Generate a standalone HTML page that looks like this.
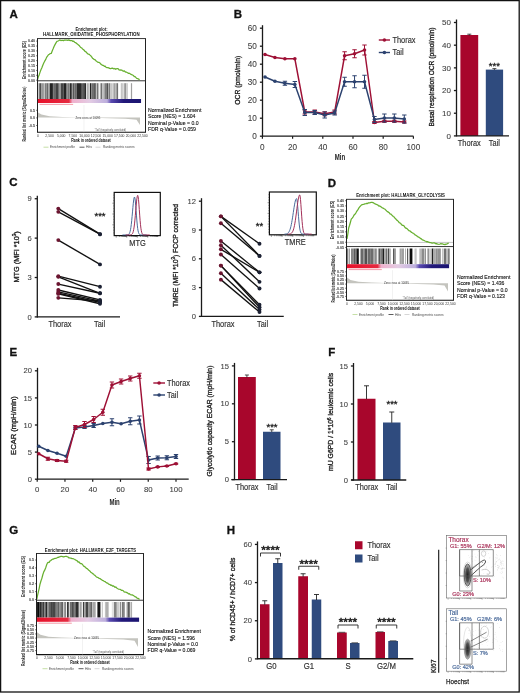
<!DOCTYPE html>
<html><head><meta charset="utf-8"><title>Figure</title>
<style>html,body{margin:0;padding:0;background:#fff;width:520px;height:693px;overflow:hidden}svg{display:block;will-change:transform;font-family:"Liberation Sans",sans-serif}</style>
</head><body>
<svg width="520" height="693" viewBox="0 0 520 693" font-family="Liberation Sans, sans-serif">
<text x="9.5" y="17.6" font-size="11.5" text-anchor="start" font-weight="bold" fill="#111" stroke="#111" stroke-width="0.3">A</text>
<text x="233.8" y="17.6" font-size="11.5" text-anchor="start" font-weight="bold" fill="#111" stroke="#111" stroke-width="0.3">B</text>
<text x="9.3" y="186.2" font-size="11.5" text-anchor="start" font-weight="bold" fill="#111" stroke="#111" stroke-width="0.3">C</text>
<text x="327.8" y="187.2" font-size="11.5" text-anchor="start" font-weight="bold" fill="#111" stroke="#111" stroke-width="0.3">D</text>
<text x="9.6" y="356.4" font-size="11.5" text-anchor="start" font-weight="bold" fill="#111" stroke="#111" stroke-width="0.3">E</text>
<text x="328.3" y="356.4" font-size="11.5" text-anchor="start" font-weight="bold" fill="#111" stroke="#111" stroke-width="0.3">F</text>
<text x="9.2" y="533.9" font-size="11.5" text-anchor="start" font-weight="bold" fill="#111" stroke="#111" stroke-width="0.3">G</text>
<text x="226.8" y="533.9" font-size="11.5" text-anchor="start" font-weight="bold" fill="#111" stroke="#111" stroke-width="0.3">H</text>
<text x="91.5" y="30.6" font-size="4.9" text-anchor="middle" font-weight="bold" fill="#111" textLength="32" lengthAdjust="spacingAndGlyphs" >Enrichment plot:</text>
<text x="91.3" y="35.6" font-size="4.9" text-anchor="middle" font-weight="bold" fill="#111" textLength="96.5" lengthAdjust="spacingAndGlyphs" >HALLMARK_OXIDATIVE_PHOSPHORYLATION</text>
<rect x="37.5" y="38.6" width="108" height="42.2" fill="none" stroke="#222" stroke-width="0.9" />
<polyline points="37.5,79.57 38.33,76.73 39.17,74.92 40,72.38 40.94,69.78 41.88,67.77 42.81,65.18 43.75,63 44.69,61.18 45.62,59.67 46.56,57.37 47.5,56.17 48.44,54.74 49.38,54.22 50.31,53.5 51.25,53.49 52.19,50.94 53.12,48.85 54.06,46.53 55,44.62 56,42.91 57,41.24 58,41.02 59,40.49 60,39.9 60.88,40.54 61.75,40.41 62.62,40.4 63.5,40.59 64.38,40.16 65.25,40.14 66.12,40.18 67,40.16 67.88,40.4 68.75,39.81 69.58,40.43 70.42,40.7 71.25,40.74 72.08,40.65 72.92,41.48 73.75,41.06 74.64,42.27 75.54,42.62 76.43,43.22 77.32,44.07 78.21,44.68 79.11,45.47 80,46.67 80.83,47.46 81.67,47.88 82.5,48.89 83.33,49.48 84.17,50.25 85,51.34 85.83,51.58 86.67,52.83 87.5,53.42 88.33,54.17 89.17,54.31 90,55.13 90.83,55.83 91.67,56.86 92.5,58.15 93.33,58.84 94.17,59.55 95,59.66 95.83,60.74 96.67,61.36 97.5,61.94 98.33,62.49 99.17,62.45 100,63.04 100.83,64.15 101.67,64.66 102.5,65.35 103.39,65.42 104.29,66.28 105.18,66.07 106.07,67.27 106.96,67.67 107.86,67.64 108.75,67.86 109.62,68.37 110.5,68.57 111.38,68.34 112.25,68.15 113.12,68.43 114,68.99 114.88,68.41 115.75,69.24 116.62,68.7 117.5,68.73 118.33,68.93 119.17,69.99 120,70.19 120.83,69.95 121.67,70.02 122.5,70.8 123.33,71.29 124.17,70.78 125,71.62 125.83,72.21 126.67,72.24 127.5,72.73 128.33,73.33 129.17,73.21 130,73.63 130.83,74.37 131.67,74.66 132.5,75.03 133.38,75.48 134.25,76.64 135.12,76.68 136,77.66 136.88,78.48 137.75,78.66 138.62,78.97 139.5,80" fill="none" stroke="#68B030" stroke-width="1.25" stroke-linejoin="round" />
<text x="34.9" y="42.4" font-size="3.6" text-anchor="end" font-weight="bold" fill="#333" >0.40</text>
<line x1="36.1" y1="41.1" x2="37.5" y2="41.1" stroke="#222" stroke-width="0.6" />
<text x="34.9" y="47.29" font-size="3.6" text-anchor="end" font-weight="bold" fill="#333" >0.35</text>
<line x1="36.1" y1="45.99" x2="37.5" y2="45.99" stroke="#222" stroke-width="0.6" />
<text x="34.9" y="52.17" font-size="3.6" text-anchor="end" font-weight="bold" fill="#333" >0.30</text>
<line x1="36.1" y1="50.88" x2="37.5" y2="50.88" stroke="#222" stroke-width="0.6" />
<text x="34.9" y="57.06" font-size="3.6" text-anchor="end" font-weight="bold" fill="#333" >0.25</text>
<line x1="36.1" y1="55.76" x2="37.5" y2="55.76" stroke="#222" stroke-width="0.6" />
<text x="34.9" y="61.95" font-size="3.6" text-anchor="end" font-weight="bold" fill="#333" >0.20</text>
<line x1="36.1" y1="60.65" x2="37.5" y2="60.65" stroke="#222" stroke-width="0.6" />
<text x="34.9" y="66.84" font-size="3.6" text-anchor="end" font-weight="bold" fill="#333" >0.15</text>
<line x1="36.1" y1="65.54" x2="37.5" y2="65.54" stroke="#222" stroke-width="0.6" />
<text x="34.9" y="71.73" font-size="3.6" text-anchor="end" font-weight="bold" fill="#333" >0.10</text>
<line x1="36.1" y1="70.43" x2="37.5" y2="70.43" stroke="#222" stroke-width="0.6" />
<text x="34.9" y="76.61" font-size="3.6" text-anchor="end" font-weight="bold" fill="#333" >0.05</text>
<line x1="36.1" y1="75.31" x2="37.5" y2="75.31" stroke="#222" stroke-width="0.6" />
<text x="34.9" y="81.5" font-size="3.6" text-anchor="end" font-weight="bold" fill="#333" >0.00</text>
<line x1="36.1" y1="80.2" x2="37.5" y2="80.2" stroke="#222" stroke-width="0.6" />
<text x="25.9" y="60.1" font-size="4.6" text-anchor="middle" font-weight="bold" fill="#222" textLength="38" lengthAdjust="spacingAndGlyphs" transform="rotate(-90 25.9 60.1)" >Enrichment score (ES)</text>
<rect x="38.6" y="83.2" width="1.6" height="15.8" fill="#7c7c7c" stroke="none" stroke-width="1" />
<rect x="40.2" y="83.2" width="0.9" height="15.8" fill="#2b2b2b" stroke="none" stroke-width="1" />
<rect x="41.1" y="83.2" width="0.6" height="15.8" fill="#767676" stroke="none" stroke-width="1" />
<rect x="41.7" y="83.2" width="2.2" height="15.8" fill="#979797" stroke="none" stroke-width="1" />
<rect x="44.4" y="83.2" width="0.6" height="15.8" fill="#999999" stroke="none" stroke-width="1" />
<rect x="45" y="83.2" width="1.6" height="15.8" fill="#7e7e7e" stroke="none" stroke-width="1" />
<rect x="46.6" y="83.2" width="1.6" height="15.8" fill="#696969" stroke="none" stroke-width="1" />
<rect x="48.2" y="83.2" width="1.6" height="15.8" fill="#9e9e9e" stroke="none" stroke-width="1" />
<rect x="49.8" y="83.2" width="2.2" height="15.8" fill="#232323" stroke="none" stroke-width="1" />
<rect x="52" y="83.2" width="1.2" height="15.8" fill="#363636" stroke="none" stroke-width="1" />
<rect x="53.2" y="83.2" width="2.8" height="15.8" fill="#686868" stroke="none" stroke-width="1" />
<rect x="56" y="83.2" width="2.8" height="15.8" fill="#434343" stroke="none" stroke-width="1" />
<rect x="58.8" y="83.2" width="1.6" height="15.8" fill="#9a9a9a" stroke="none" stroke-width="1" />
<rect x="60.4" y="83.2" width="0.6" height="15.8" fill="#6c6c6c" stroke="none" stroke-width="1" />
<rect x="61" y="83.2" width="2.8" height="15.8" fill="#454545" stroke="none" stroke-width="1" />
<rect x="63.8" y="83.2" width="2.8" height="15.8" fill="#242424" stroke="none" stroke-width="1" />
<rect x="67.3" y="83.2" width="1.6" height="15.8" fill="#656565" stroke="none" stroke-width="1" />
<rect x="68.9" y="83.2" width="1.2" height="15.8" fill="#919191" stroke="none" stroke-width="1" />
<rect x="70.1" y="83.2" width="1.6" height="15.8" fill="#131313" stroke="none" stroke-width="1" />
<rect x="72.4" y="83.2" width="2.2" height="15.8" fill="#575757" stroke="none" stroke-width="1" />
<rect x="74.6" y="83.2" width="2.2" height="15.8" fill="#696969" stroke="none" stroke-width="1" />
<rect x="76.8" y="83.2" width="2.2" height="15.8" fill="#292929" stroke="none" stroke-width="1" />
<rect x="79" y="83.2" width="2.8" height="15.8" fill="#292929" stroke="none" stroke-width="1" />
<rect x="82.3" y="83.2" width="1.2" height="15.8" fill="#1e1e1e" stroke="none" stroke-width="1" />
<rect x="83.5" y="83.2" width="1.2" height="15.8" fill="#1f1f1f" stroke="none" stroke-width="1" />
<rect x="84.7" y="83.2" width="1.2" height="15.8" fill="#131313" stroke="none" stroke-width="1" />
<rect x="86.6" y="83.2" width="2.2" height="15.8" fill="#aeaeae" stroke="none" stroke-width="1" />
<rect x="89.8" y="83.2" width="1.2" height="15.8" fill="#222222" stroke="none" stroke-width="1" />
<rect x="91" y="83.2" width="0.6" height="15.8" fill="#606060" stroke="none" stroke-width="1" />
<rect x="91.6" y="83.2" width="2.8" height="15.8" fill="#6f6f6f" stroke="none" stroke-width="1" />
<rect x="94.4" y="83.2" width="1.2" height="15.8" fill="#161616" stroke="none" stroke-width="1" />
<rect x="95.6" y="83.2" width="0.9" height="15.8" fill="#717171" stroke="none" stroke-width="1" />
<rect x="96.5" y="83.2" width="0.9" height="15.8" fill="#cdcdcd" stroke="none" stroke-width="1" />
<rect x="97.4" y="83.2" width="0.9" height="15.8" fill="#262626" stroke="none" stroke-width="1" />
<rect x="99.7" y="83.2" width="0.9" height="15.8" fill="#d2d2d2" stroke="none" stroke-width="1" />
<rect x="100.6" y="83.2" width="1.6" height="15.8" fill="#717171" stroke="none" stroke-width="1" />
<rect x="102.2" y="83.2" width="2.2" height="15.8" fill="#bebebe" stroke="none" stroke-width="1" />
<rect x="104.4" y="83.2" width="2.8" height="15.8" fill="#7e7e7e" stroke="none" stroke-width="1" />
<rect x="107.2" y="83.2" width="1.2" height="15.8" fill="#2e2e2e" stroke="none" stroke-width="1" />
<rect x="109.1" y="83.2" width="1.2" height="15.8" fill="#6d6d6d" stroke="none" stroke-width="1" />
<rect x="110.3" y="83.2" width="2.2" height="15.8" fill="#c7c7c7" stroke="none" stroke-width="1" />
<rect x="112.5" y="83.2" width="0.9" height="15.8" fill="#cacaca" stroke="none" stroke-width="1" />
<rect x="113.4" y="83.2" width="2.2" height="15.8" fill="#a2a2a2" stroke="none" stroke-width="1" />
<rect x="115.6" y="83.2" width="0.9" height="15.8" fill="#acacac" stroke="none" stroke-width="1" />
<rect x="116.5" y="83.2" width="1.6" height="15.8" fill="#707070" stroke="none" stroke-width="1" />
<rect x="120.9" y="83.2" width="0.6" height="15.8" fill="#7b7b7b" stroke="none" stroke-width="1" />
<rect x="121.5" y="83.2" width="2.2" height="15.8" fill="#cdcdcd" stroke="none" stroke-width="1" />
<rect x="124.2" y="83.2" width="2.2" height="15.8" fill="#969696" stroke="none" stroke-width="1" />
<rect x="126.4" y="83.2" width="1.6" height="15.8" fill="#d0d0d0" stroke="none" stroke-width="1" />
<rect x="130.9" y="83.2" width="1.2" height="15.8" fill="#a0a0a0" stroke="none" stroke-width="1" />
<line x1="37.5" y1="38.6" x2="37.5" y2="132.2" stroke="#222" stroke-width="1" />
<line x1="145.5" y1="38.6" x2="145.5" y2="132.2" stroke="#222" stroke-width="1" />
<defs><linearGradient id="cb1" x1="0" x2="1" y1="0" y2="0"><stop offset="0" stop-color="#E8102A"/><stop offset="0.3" stop-color="#E52A40"/><stop offset="0.335" stop-color="#EFB0CC"/><stop offset="0.5" stop-color="#E4CCE4"/><stop offset="0.67" stop-color="#BCAEDC"/><stop offset="0.71" stop-color="#5A4AB0"/><stop offset="0.83" stop-color="#22187A"/><stop offset="1" stop-color="#1A1470"/></linearGradient></defs>
<rect x="37.9" y="99" width="103.14" height="4" fill="url(#cb1)" stroke="none" stroke-width="1" />
<line x1="39.5" y1="104.4" x2="73.14" y2="104.4" stroke="#F08090" stroke-width="0.8" />
<line x1="37.05" y1="132.2" x2="145.95" y2="132.2" stroke="#111" stroke-width="1.1" />
<line x1="83.94" y1="105" x2="83.94" y2="132.2" stroke="#ddd" stroke-width="0.4" />
<polygon points="38,112.4 41.5,114.6 49.5,116.2 62.5,117 83.94,117.6 125.5,118.7 136.5,119.8 140,125.1 140,117.6 38,117.6" fill="#C4C4BE"/>
<text x="87.94" y="118.6" font-size="2.8" text-anchor="middle" font-weight="normal" fill="#333" >Zero cross at 10095</text>
<text x="110.5" y="130.6" font-size="2.6" text-anchor="middle" font-weight="normal" fill="#555" >'Tail' (negatively correlated)</text>
<text x="34.9" y="111.6" font-size="3.6" text-anchor="end" font-weight="bold" fill="#333" >0.5</text>
<line x1="36.1" y1="110.3" x2="37.5" y2="110.3" stroke="#222" stroke-width="0.6" />
<text x="34.9" y="119.2" font-size="3.6" text-anchor="end" font-weight="bold" fill="#333" >0.0</text>
<line x1="36.1" y1="117.9" x2="37.5" y2="117.9" stroke="#222" stroke-width="0.6" />
<text x="34.9" y="126.8" font-size="3.6" text-anchor="end" font-weight="bold" fill="#333" >-0.5</text>
<line x1="36.1" y1="125.5" x2="37.5" y2="125.5" stroke="#222" stroke-width="0.6" />
<text x="25.9" y="114.1" font-size="4.9" text-anchor="middle" font-weight="bold" fill="#222" textLength="55" lengthAdjust="spacingAndGlyphs" transform="rotate(-90 25.9 114.1)" >Ranked list metric (Signal2Noise)</text>
<text x="38" y="137.1" font-size="3.4" text-anchor="middle" font-weight="normal" fill="#333" >0</text>
<text x="49.61" y="137.1" font-size="3.4" text-anchor="middle" font-weight="normal" fill="#333" >2,500</text>
<text x="61.22" y="137.1" font-size="3.4" text-anchor="middle" font-weight="normal" fill="#333" >5,000</text>
<text x="72.83" y="137.1" font-size="3.4" text-anchor="middle" font-weight="normal" fill="#333" >7,500</text>
<text x="84.44" y="137.1" font-size="3.4" text-anchor="middle" font-weight="normal" fill="#333" >10,000</text>
<text x="96.06" y="137.1" font-size="3.4" text-anchor="middle" font-weight="normal" fill="#333" >12,500</text>
<text x="107.67" y="137.1" font-size="3.4" text-anchor="middle" font-weight="normal" fill="#333" >15,000</text>
<text x="119.28" y="137.1" font-size="3.4" text-anchor="middle" font-weight="normal" fill="#333" >17,500</text>
<text x="130.89" y="137.1" font-size="3.4" text-anchor="middle" font-weight="normal" fill="#333" >20,000</text>
<text x="142.5" y="137.1" font-size="3.4" text-anchor="middle" font-weight="normal" fill="#333" >22,500</text>
<text x="91" y="142.4" font-size="5.2" text-anchor="middle" font-weight="bold" fill="#111" textLength="39.5" lengthAdjust="spacingAndGlyphs" >Rank in ordered dataset</text>
<line x1="43.5" y1="147.2" x2="48.5" y2="147.2" stroke="#B8D890" stroke-width="0.8" />
<text x="49.9" y="148.3" font-size="3.4" text-anchor="start" font-weight="normal" fill="#444" textLength="25" lengthAdjust="spacingAndGlyphs" >Enrichment profile</text>
<line x1="79.5" y1="147.2" x2="84.5" y2="147.2" stroke="#333" stroke-width="0.8" />
<text x="86" y="148.3" font-size="3.4" text-anchor="start" font-weight="normal" fill="#444" >Hits</text>
<line x1="95.5" y1="147.2" x2="100.5" y2="147.2" stroke="#bbb" stroke-width="0.6" />
<text x="103" y="148.3" font-size="3.4" text-anchor="start" font-weight="normal" fill="#444" textLength="31.5" lengthAdjust="spacingAndGlyphs" >Ranking metric scores</text>
<text x="148" y="111.9" font-size="5.4" text-anchor="start" font-weight="normal" fill="#111" textLength="53.31" lengthAdjust="spacingAndGlyphs" stroke="#111" stroke-width="0.12">Normalized Enrichment</text>
<text x="148" y="118.35" font-size="5.4" text-anchor="start" font-weight="normal" fill="#111" textLength="47.47" lengthAdjust="spacingAndGlyphs" stroke="#111" stroke-width="0.12">Score (NES) = 1.604</text>
<text x="148" y="124.8" font-size="5.4" text-anchor="start" font-weight="normal" fill="#111" textLength="50.52" lengthAdjust="spacingAndGlyphs" stroke="#111" stroke-width="0.12">Nominal p-Value = 0.0</text>
<text x="148" y="131.25" font-size="5.4" text-anchor="start" font-weight="normal" fill="#111" textLength="47.95" lengthAdjust="spacingAndGlyphs" stroke="#111" stroke-width="0.12">FDR q-Value = 0.059</text>
<text x="400.5" y="197.1" font-size="4.9" text-anchor="middle" font-weight="bold" fill="#111" textLength="88.7" lengthAdjust="spacingAndGlyphs" >Enrichment plot: HALLMARK_GLYCOLYSIS</text>
<rect x="346.5" y="199.3" width="107" height="47.3" fill="none" stroke="#222" stroke-width="0.9" />
<line x1="346.5" y1="242.4" x2="453.5" y2="242.4" stroke="#888" stroke-width="0.5" />
<polyline points="347,238.93 347.88,233.73 348.75,227.7 349.58,225.27 350.42,222.26 351.25,219.15 352.19,218.11 353.12,216.81 354.06,215.09 355,214.28 355.94,212.8 356.88,211.14 357.81,209.9 358.75,208.21 359.69,206.95 360.62,205.88 361.56,204.85 362.5,204.53 363.33,204.3 364.17,204.1 365,203.82 365.83,203.75 366.67,203.37 367.5,203.53 368.44,202.87 369.38,202.98 370.31,202.68 371.25,202.4 372.08,202.36 372.92,202.55 373.75,203.1 374.58,203.75 375.42,203.93 376.25,204.47 377.12,204.69 378,205.16 378.88,206.12 379.75,205.95 380.62,206.49 381.5,207.33 382.38,207.87 383.25,208.19 384.12,208.8 385,209.2 385.83,210.1 386.67,210.99 387.5,211.63 388.33,212.15 389.17,212.7 390,213.82 390.83,214.06 391.67,214.92 392.5,215.83 393.33,216.5 394.17,217.07 395,218.22 395.83,218.92 396.67,220.04 397.5,220.61 398.33,221.36 399.17,222.59 400,223.02 400.83,223.6 401.67,224.78 402.5,225.48 403.33,225.48 404.17,226.09 405,227.49 405.83,228.21 406.67,228.45 407.5,229.03 408.33,230.04 409.17,230.9 410,230.87 410.83,231.7 411.67,232.52 412.5,232.75 413.33,233.55 414.17,233.93 415,234.86 415.83,235.26 416.67,235.75 417.5,236.65 418.33,236.94 419.17,237.41 420,237.94 420.83,238.68 421.67,239.09 422.5,239.96 423.33,240.17 424.17,240.52 425,240.97 425.83,241.25 426.67,241.84 427.5,241.54 428.33,241.97 429.17,242.46 430,242.67 430.83,242.53 431.67,243.06 432.5,243.07 433.33,242.88 434.17,242.95 435,243.2 435.83,243.84 436.67,243.57 437.5,244.05 438.33,244.25 439.17,244.29 440,243.97 440.83,243.6 441.67,243.88 442.5,243.87 443.33,244.3 444.17,244.39 445,244.63 445.94,244.12 446.88,244.04 447.81,243.44 448.75,243" fill="none" stroke="#68B030" stroke-width="1.25" stroke-linejoin="round" />
<text x="343.9" y="202" font-size="3.6" text-anchor="end" font-weight="bold" fill="#333" >0.40</text>
<line x1="345.1" y1="200.7" x2="346.5" y2="200.7" stroke="#222" stroke-width="0.6" />
<text x="343.9" y="207.19" font-size="3.6" text-anchor="end" font-weight="bold" fill="#333" >0.35</text>
<line x1="345.1" y1="205.89" x2="346.5" y2="205.89" stroke="#222" stroke-width="0.6" />
<text x="343.9" y="212.38" font-size="3.6" text-anchor="end" font-weight="bold" fill="#333" >0.30</text>
<line x1="345.1" y1="211.08" x2="346.5" y2="211.08" stroke="#222" stroke-width="0.6" />
<text x="343.9" y="217.57" font-size="3.6" text-anchor="end" font-weight="bold" fill="#333" >0.25</text>
<line x1="345.1" y1="216.27" x2="346.5" y2="216.27" stroke="#222" stroke-width="0.6" />
<text x="343.9" y="222.76" font-size="3.6" text-anchor="end" font-weight="bold" fill="#333" >0.20</text>
<line x1="345.1" y1="221.46" x2="346.5" y2="221.46" stroke="#222" stroke-width="0.6" />
<text x="343.9" y="227.95" font-size="3.6" text-anchor="end" font-weight="bold" fill="#333" >0.15</text>
<line x1="345.1" y1="226.65" x2="346.5" y2="226.65" stroke="#222" stroke-width="0.6" />
<text x="343.9" y="233.14" font-size="3.6" text-anchor="end" font-weight="bold" fill="#333" >0.10</text>
<line x1="345.1" y1="231.84" x2="346.5" y2="231.84" stroke="#222" stroke-width="0.6" />
<text x="343.9" y="238.33" font-size="3.6" text-anchor="end" font-weight="bold" fill="#333" >0.05</text>
<line x1="345.1" y1="237.03" x2="346.5" y2="237.03" stroke="#222" stroke-width="0.6" />
<text x="343.9" y="243.52" font-size="3.6" text-anchor="end" font-weight="bold" fill="#333" >0.00</text>
<line x1="345.1" y1="242.22" x2="346.5" y2="242.22" stroke="#222" stroke-width="0.6" />
<text x="343.9" y="248.71" font-size="3.6" text-anchor="end" font-weight="bold" fill="#333" >-0.05</text>
<line x1="345.1" y1="247.41" x2="346.5" y2="247.41" stroke="#222" stroke-width="0.6" />
<text x="333.5" y="220" font-size="4.6" text-anchor="middle" font-weight="bold" fill="#222" textLength="38.5" lengthAdjust="spacingAndGlyphs" transform="rotate(-90 333.5 220)" >Enrichment score (ES)</text>
<rect x="347.1" y="248.5" width="0.6" height="15.7" fill="#202020" stroke="none" stroke-width="1" />
<rect x="348.7" y="248.5" width="0.9" height="15.7" fill="#646464" stroke="none" stroke-width="1" />
<rect x="351" y="248.5" width="2.8" height="15.7" fill="#878787" stroke="none" stroke-width="1" />
<rect x="353.8" y="248.5" width="1.6" height="15.7" fill="#5b5b5b" stroke="none" stroke-width="1" />
<rect x="355.4" y="248.5" width="1.2" height="15.7" fill="#585858" stroke="none" stroke-width="1" />
<rect x="356.6" y="248.5" width="2.2" height="15.7" fill="#131313" stroke="none" stroke-width="1" />
<rect x="360.5" y="248.5" width="2.8" height="15.7" fill="#696969" stroke="none" stroke-width="1" />
<rect x="363.3" y="248.5" width="1.6" height="15.7" fill="#828282" stroke="none" stroke-width="1" />
<rect x="364.9" y="248.5" width="2.2" height="15.7" fill="#525252" stroke="none" stroke-width="1" />
<rect x="367.1" y="248.5" width="0.9" height="15.7" fill="#a2a2a2" stroke="none" stroke-width="1" />
<rect x="368" y="248.5" width="2.8" height="15.7" fill="#6b6b6b" stroke="none" stroke-width="1" />
<rect x="370.8" y="248.5" width="2.2" height="15.7" fill="#6c6c6c" stroke="none" stroke-width="1" />
<rect x="373" y="248.5" width="1.6" height="15.7" fill="#a0a0a0" stroke="none" stroke-width="1" />
<rect x="374.6" y="248.5" width="2.2" height="15.7" fill="#8a8a8a" stroke="none" stroke-width="1" />
<rect x="377.8" y="248.5" width="0.9" height="15.7" fill="#a1a1a1" stroke="none" stroke-width="1" />
<rect x="378.7" y="248.5" width="1.6" height="15.7" fill="#585858" stroke="none" stroke-width="1" />
<rect x="380.3" y="248.5" width="2.2" height="15.7" fill="#7a7a7a" stroke="none" stroke-width="1" />
<rect x="382.5" y="248.5" width="1.6" height="15.7" fill="#1e1e1e" stroke="none" stroke-width="1" />
<rect x="384.1" y="248.5" width="2.2" height="15.7" fill="#a7a7a7" stroke="none" stroke-width="1" />
<rect x="386.3" y="248.5" width="0.6" height="15.7" fill="#272727" stroke="none" stroke-width="1" />
<rect x="387.4" y="248.5" width="0.9" height="15.7" fill="#909090" stroke="none" stroke-width="1" />
<rect x="388.3" y="248.5" width="0.9" height="15.7" fill="#121212" stroke="none" stroke-width="1" />
<rect x="389.2" y="248.5" width="1.6" height="15.7" fill="#aeaeae" stroke="none" stroke-width="1" />
<rect x="393.3" y="248.5" width="0.9" height="15.7" fill="#111111" stroke="none" stroke-width="1" />
<rect x="394.2" y="248.5" width="1.6" height="15.7" fill="#8a8a8a" stroke="none" stroke-width="1" />
<rect x="399.6" y="248.5" width="2.2" height="15.7" fill="#a2a2a2" stroke="none" stroke-width="1" />
<rect x="401.8" y="248.5" width="2.2" height="15.7" fill="#a0a0a0" stroke="none" stroke-width="1" />
<rect x="405" y="248.5" width="0.6" height="15.7" fill="#818181" stroke="none" stroke-width="1" />
<rect x="407" y="248.5" width="1.2" height="15.7" fill="#5b5b5b" stroke="none" stroke-width="1" />
<rect x="409.6" y="248.5" width="2.8" height="15.7" fill="#0c0c0c" stroke="none" stroke-width="1" />
<rect x="414.5" y="248.5" width="2.2" height="15.7" fill="#c6c6c6" stroke="none" stroke-width="1" />
<rect x="419.3" y="248.5" width="2.2" height="15.7" fill="#bababa" stroke="none" stroke-width="1" />
<rect x="421.5" y="248.5" width="2.8" height="15.7" fill="#8c8c8c" stroke="none" stroke-width="1" />
<rect x="424.8" y="248.5" width="0.9" height="15.7" fill="#666666" stroke="none" stroke-width="1" />
<rect x="427.4" y="248.5" width="1.6" height="15.7" fill="#959595" stroke="none" stroke-width="1" />
<rect x="429" y="248.5" width="2.8" height="15.7" fill="#d1d1d1" stroke="none" stroke-width="1" />
<rect x="431.8" y="248.5" width="1.6" height="15.7" fill="#212121" stroke="none" stroke-width="1" />
<rect x="433.4" y="248.5" width="2.2" height="15.7" fill="#ababab" stroke="none" stroke-width="1" />
<rect x="435.6" y="248.5" width="1.6" height="15.7" fill="#919191" stroke="none" stroke-width="1" />
<rect x="437.2" y="248.5" width="2.2" height="15.7" fill="#929292" stroke="none" stroke-width="1" />
<rect x="439.4" y="248.5" width="1.2" height="15.7" fill="#676767" stroke="none" stroke-width="1" />
<rect x="442.1" y="248.5" width="0.6" height="15.7" fill="#9c9c9c" stroke="none" stroke-width="1" />
<rect x="443.7" y="248.5" width="2.8" height="15.7" fill="#727272" stroke="none" stroke-width="1" />
<rect x="447.5" y="248.5" width="1.6" height="15.7" fill="#7e7e7e" stroke="none" stroke-width="1" />
<rect x="449.1" y="248.5" width="0.4" height="15.7" fill="#2c2c2c" stroke="none" stroke-width="1" />
<line x1="346.5" y1="199.3" x2="346.5" y2="300.2" stroke="#222" stroke-width="1" />
<line x1="453.5" y1="199.3" x2="453.5" y2="300.2" stroke="#222" stroke-width="1" />
<defs><linearGradient id="cb2" x1="0" x2="1" y1="0" y2="0"><stop offset="0" stop-color="#E8102A"/><stop offset="0.3" stop-color="#E52A40"/><stop offset="0.335" stop-color="#EFB0CC"/><stop offset="0.5" stop-color="#E4CCE4"/><stop offset="0.67" stop-color="#BCAEDC"/><stop offset="0.71" stop-color="#5A4AB0"/><stop offset="0.83" stop-color="#22187A"/><stop offset="1" stop-color="#1A1470"/></linearGradient></defs>
<rect x="346.9" y="264.2" width="102.19" height="4" fill="url(#cb2)" stroke="none" stroke-width="1" />
<line x1="348.5" y1="269.6" x2="381.81" y2="269.6" stroke="#F08090" stroke-width="0.8" />
<line x1="346.05" y1="300.2" x2="453.95" y2="300.2" stroke="#111" stroke-width="1.1" />
<line x1="392.51" y1="270.2" x2="392.51" y2="300.2" stroke="#ddd" stroke-width="0.4" />
<polygon points="347,277.48 350.5,279.9 358.5,281.66 371.5,282.54 392.51,283.2 433.5,284.41 444.5,285.62 448,291.45 448,283.2 347,283.2" fill="#C4C4BE"/>
<text x="396.51" y="284.2" font-size="2.8" text-anchor="middle" font-weight="normal" fill="#333" >Zero cross at 10095</text>
<text x="418.5" y="298.6" font-size="2.6" text-anchor="middle" font-weight="normal" fill="#555" >'Tail' (negatively correlated)</text>
<text x="343.9" y="273.1" font-size="3.6" text-anchor="end" font-weight="bold" fill="#333" >0.75</text>
<line x1="345.1" y1="271.8" x2="346.5" y2="271.8" stroke="#222" stroke-width="0.6" />
<text x="343.9" y="277.2" font-size="3.6" text-anchor="end" font-weight="bold" fill="#333" >0.50</text>
<line x1="345.1" y1="275.9" x2="346.5" y2="275.9" stroke="#222" stroke-width="0.6" />
<text x="343.9" y="281.3" font-size="3.6" text-anchor="end" font-weight="bold" fill="#333" >0.25</text>
<line x1="345.1" y1="280" x2="346.5" y2="280" stroke="#222" stroke-width="0.6" />
<text x="343.9" y="285.4" font-size="3.6" text-anchor="end" font-weight="bold" fill="#333" >0.00</text>
<line x1="345.1" y1="284.1" x2="346.5" y2="284.1" stroke="#222" stroke-width="0.6" />
<text x="343.9" y="289.5" font-size="3.6" text-anchor="end" font-weight="bold" fill="#333" >-0.25</text>
<line x1="345.1" y1="288.2" x2="346.5" y2="288.2" stroke="#222" stroke-width="0.6" />
<text x="343.9" y="293.6" font-size="3.6" text-anchor="end" font-weight="bold" fill="#333" >-0.50</text>
<line x1="345.1" y1="292.3" x2="346.5" y2="292.3" stroke="#222" stroke-width="0.6" />
<text x="343.9" y="297.7" font-size="3.6" text-anchor="end" font-weight="bold" fill="#333" >-0.75</text>
<line x1="345.1" y1="296.4" x2="346.5" y2="296.4" stroke="#222" stroke-width="0.6" />
<text x="334.9" y="278.5" font-size="4.9" text-anchor="middle" font-weight="bold" fill="#222" textLength="48" lengthAdjust="spacingAndGlyphs" transform="rotate(-90 334.9 278.5)" >Ranked list metric (Signal2Noise)</text>
<text x="347" y="304.7" font-size="3.4" text-anchor="middle" font-weight="normal" fill="#333" >0</text>
<text x="358.5" y="304.7" font-size="3.4" text-anchor="middle" font-weight="normal" fill="#333" >2,500</text>
<text x="370" y="304.7" font-size="3.4" text-anchor="middle" font-weight="normal" fill="#333" >5,000</text>
<text x="381.5" y="304.7" font-size="3.4" text-anchor="middle" font-weight="normal" fill="#333" >7,500</text>
<text x="393" y="304.7" font-size="3.4" text-anchor="middle" font-weight="normal" fill="#333" >10,000</text>
<text x="404.5" y="304.7" font-size="3.4" text-anchor="middle" font-weight="normal" fill="#333" >12,500</text>
<text x="416" y="304.7" font-size="3.4" text-anchor="middle" font-weight="normal" fill="#333" >15,000</text>
<text x="427.5" y="304.7" font-size="3.4" text-anchor="middle" font-weight="normal" fill="#333" >17,500</text>
<text x="439" y="304.7" font-size="3.4" text-anchor="middle" font-weight="normal" fill="#333" >20,000</text>
<text x="450.5" y="304.7" font-size="3.4" text-anchor="middle" font-weight="normal" fill="#333" >22,500</text>
<text x="400" y="309.7" font-size="5.2" text-anchor="middle" font-weight="bold" fill="#111" textLength="39.5" lengthAdjust="spacingAndGlyphs" >Rank in ordered dataset</text>
<line x1="352.5" y1="314.5" x2="357.5" y2="314.5" stroke="#B8D890" stroke-width="0.8" />
<text x="358.9" y="315.6" font-size="3.4" text-anchor="start" font-weight="normal" fill="#444" textLength="25" lengthAdjust="spacingAndGlyphs" >Enrichment profile</text>
<line x1="388.5" y1="314.5" x2="393.5" y2="314.5" stroke="#333" stroke-width="0.8" />
<text x="395" y="315.6" font-size="3.4" text-anchor="start" font-weight="normal" fill="#444" >Hits</text>
<line x1="404.5" y1="314.5" x2="409.5" y2="314.5" stroke="#bbb" stroke-width="0.6" />
<text x="412" y="315.6" font-size="3.4" text-anchor="start" font-weight="normal" fill="#444" textLength="31.5" lengthAdjust="spacingAndGlyphs" >Ranking metric scores</text>
<text x="457" y="278.9" font-size="5.4" text-anchor="start" font-weight="normal" fill="#111" textLength="53.31" lengthAdjust="spacingAndGlyphs" stroke="#111" stroke-width="0.12">Normalized Enrichment</text>
<text x="457" y="285.35" font-size="5.4" text-anchor="start" font-weight="normal" fill="#111" textLength="47.47" lengthAdjust="spacingAndGlyphs" stroke="#111" stroke-width="0.12">Score (NES) = 1.436</text>
<text x="457" y="291.8" font-size="5.4" text-anchor="start" font-weight="normal" fill="#111" textLength="50.52" lengthAdjust="spacingAndGlyphs" stroke="#111" stroke-width="0.12">Nominal p-Value = 0.0</text>
<text x="457" y="298.25" font-size="5.4" text-anchor="start" font-weight="normal" fill="#111" textLength="47.95" lengthAdjust="spacingAndGlyphs" stroke="#111" stroke-width="0.12">FDR q-Value = 0.123</text>
<text x="90.5" y="551.6" font-size="4.9" text-anchor="middle" font-weight="bold" fill="#111" textLength="91.3" lengthAdjust="spacingAndGlyphs" >Enrichment plot: HALLMARK_E2F_TARGETS</text>
<rect x="36.5" y="553.5" width="107" height="46.7" fill="none" stroke="#222" stroke-width="0.9" />
<polyline points="36.75,599.43 37.56,595.34 38.38,591.95 39.19,588.34 40,584.24 40.94,581 41.88,578.34 42.81,574.78 43.75,571.89 44.69,570.16 45.62,567.96 46.56,565.09 47.5,562.87 48.33,562.38 49.17,562.3 50,560.95 50.83,560.5 51.67,559.77 52.5,559.16 53.33,559.19 54.17,558.55 55,558.42 55.83,558.38 56.67,558.03 57.5,557.42 58.33,557.42 59.17,556.9 60,556.79 60.89,556.27 61.79,556.38 62.68,556.57 63.57,556.9 64.46,556.61 65.36,556.48 66.25,556.28 67.08,556.58 67.92,556.8 68.75,557.77 69.58,557.96 70.42,558.24 71.25,558.19 72.08,558.63 72.92,558.54 73.75,558.98 74.62,559.23 75.5,560.03 76.38,560.43 77.25,560.84 78.12,562.13 79,561.94 79.88,563.13 80.75,563.58 81.62,563.58 82.5,564.49 83.33,565.7 84.17,566.44 85,566.81 85.83,567.74 86.67,568.44 87.5,568.81 88.33,569.79 89.17,570.59 90,571.15 90.83,572.29 91.67,572.7 92.5,573.72 93.33,573.86 94.17,574.95 95,575.34 95.83,576.38 96.67,577.09 97.5,577.29 98.33,577.81 99.17,578.36 100,578.51 100.83,579.15 101.67,579.82 102.5,580.38 103.33,580.64 104.17,581.23 105,581.6 105.83,582.3 106.67,582.91 107.5,583.09 108.33,583.83 109.17,584.4 110,584.53 110.83,585.35 111.67,585.16 112.5,586.13 113.33,585.88 114.17,586.46 115,587.29 115.83,587 116.67,587.94 117.5,588.58 118.33,589.07 119.17,589.25 120,589.36 120.83,589.77 121.67,590.45 122.5,590.36 123.33,590.74 124.17,591.93 125,592.11 125.88,592.07 126.75,592.69 127.62,592.94 128.5,593.83 129.38,593.68 130.25,594.45 131.12,594.84 132,594.84 132.88,595.15 133.75,595.77 134.57,596.2 135.39,596.91 136.21,597.2 137.04,598.16 137.86,598.36 138.68,598.64 139.5,599.5" fill="none" stroke="#68B030" stroke-width="1.25" stroke-linejoin="round" />
<text x="33.9" y="561.3" font-size="3.6" text-anchor="end" font-weight="bold" fill="#333" >0.5</text>
<line x1="35.1" y1="560" x2="36.5" y2="560" stroke="#222" stroke-width="0.6" />
<text x="33.9" y="569.2" font-size="3.6" text-anchor="end" font-weight="bold" fill="#333" >0.4</text>
<line x1="35.1" y1="567.9" x2="36.5" y2="567.9" stroke="#222" stroke-width="0.6" />
<text x="33.9" y="577.1" font-size="3.6" text-anchor="end" font-weight="bold" fill="#333" >0.3</text>
<line x1="35.1" y1="575.8" x2="36.5" y2="575.8" stroke="#222" stroke-width="0.6" />
<text x="33.9" y="585" font-size="3.6" text-anchor="end" font-weight="bold" fill="#333" >0.2</text>
<line x1="35.1" y1="583.7" x2="36.5" y2="583.7" stroke="#222" stroke-width="0.6" />
<text x="33.9" y="592.9" font-size="3.6" text-anchor="end" font-weight="bold" fill="#333" >0.1</text>
<line x1="35.1" y1="591.6" x2="36.5" y2="591.6" stroke="#222" stroke-width="0.6" />
<text x="33.9" y="600.8" font-size="3.6" text-anchor="end" font-weight="bold" fill="#333" >0.0</text>
<line x1="35.1" y1="599.5" x2="36.5" y2="599.5" stroke="#222" stroke-width="0.6" />
<text x="24.5" y="576.5" font-size="4.6" text-anchor="middle" font-weight="bold" fill="#222" textLength="41" lengthAdjust="spacingAndGlyphs" transform="rotate(-90 24.5 576.5)" >Enrichment score (ES)</text>
<rect x="37.1" y="602" width="2.2" height="15.6" fill="#0a0a0a" stroke="none" stroke-width="1" />
<rect x="39.3" y="602" width="2.2" height="15.6" fill="#2b2b2b" stroke="none" stroke-width="1" />
<rect x="41.5" y="602" width="0.9" height="15.6" fill="#161616" stroke="none" stroke-width="1" />
<rect x="42.4" y="602" width="2.2" height="15.6" fill="#3c3c3c" stroke="none" stroke-width="1" />
<rect x="45.3" y="602" width="2.2" height="15.6" fill="#292929" stroke="none" stroke-width="1" />
<rect x="48" y="602" width="0.6" height="15.6" fill="#717171" stroke="none" stroke-width="1" />
<rect x="48.6" y="602" width="1.6" height="15.6" fill="#646464" stroke="none" stroke-width="1" />
<rect x="50.2" y="602" width="2.2" height="15.6" fill="#434343" stroke="none" stroke-width="1" />
<rect x="52.4" y="602" width="0.6" height="15.6" fill="#111111" stroke="none" stroke-width="1" />
<rect x="53" y="602" width="2.8" height="15.6" fill="#464646" stroke="none" stroke-width="1" />
<rect x="55.8" y="602" width="2.2" height="15.6" fill="#7e7e7e" stroke="none" stroke-width="1" />
<rect x="58" y="602" width="1.6" height="15.6" fill="#616161" stroke="none" stroke-width="1" />
<rect x="59.6" y="602" width="0.6" height="15.6" fill="#878787" stroke="none" stroke-width="1" />
<rect x="60.2" y="602" width="0.9" height="15.6" fill="#737373" stroke="none" stroke-width="1" />
<rect x="61.1" y="602" width="2.2" height="15.6" fill="#636363" stroke="none" stroke-width="1" />
<rect x="64.3" y="602" width="0.6" height="15.6" fill="#5d5d5d" stroke="none" stroke-width="1" />
<rect x="64.9" y="602" width="1.2" height="15.6" fill="#878787" stroke="none" stroke-width="1" />
<rect x="67.1" y="602" width="1.6" height="15.6" fill="#222222" stroke="none" stroke-width="1" />
<rect x="69.7" y="602" width="1.2" height="15.6" fill="#686868" stroke="none" stroke-width="1" />
<rect x="70.9" y="602" width="0.6" height="15.6" fill="#363636" stroke="none" stroke-width="1" />
<rect x="71.5" y="602" width="1.6" height="15.6" fill="#4e4e4e" stroke="none" stroke-width="1" />
<rect x="73.1" y="602" width="1.2" height="15.6" fill="#545454" stroke="none" stroke-width="1" />
<rect x="74.3" y="602" width="1.6" height="15.6" fill="#5e5e5e" stroke="none" stroke-width="1" />
<rect x="75.9" y="602" width="2.2" height="15.6" fill="#303030" stroke="none" stroke-width="1" />
<rect x="78.1" y="602" width="1.2" height="15.6" fill="#6a6a6a" stroke="none" stroke-width="1" />
<rect x="80.3" y="602" width="1.2" height="15.6" fill="#797979" stroke="none" stroke-width="1" />
<rect x="82.9" y="602" width="1.2" height="15.6" fill="#3c3c3c" stroke="none" stroke-width="1" />
<rect x="84.1" y="602" width="0.6" height="15.6" fill="#8d8d8d" stroke="none" stroke-width="1" />
<rect x="84.7" y="602" width="1.2" height="15.6" fill="#8b8b8b" stroke="none" stroke-width="1" />
<rect x="85.9" y="602" width="2.2" height="15.6" fill="#454545" stroke="none" stroke-width="1" />
<rect x="88.1" y="602" width="1.2" height="15.6" fill="#929292" stroke="none" stroke-width="1" />
<rect x="89.3" y="602" width="0.9" height="15.6" fill="#727272" stroke="none" stroke-width="1" />
<rect x="90.2" y="602" width="2.2" height="15.6" fill="#666666" stroke="none" stroke-width="1" />
<rect x="92.9" y="602" width="2.8" height="15.6" fill="#a7a7a7" stroke="none" stroke-width="1" />
<rect x="97.4" y="602" width="2.8" height="15.6" fill="#161616" stroke="none" stroke-width="1" />
<rect x="100.2" y="602" width="0.9" height="15.6" fill="#8b8b8b" stroke="none" stroke-width="1" />
<rect x="102.1" y="602" width="0.9" height="15.6" fill="#c8c8c8" stroke="none" stroke-width="1" />
<rect x="104.9" y="602" width="1.2" height="15.6" fill="#c2c2c2" stroke="none" stroke-width="1" />
<rect x="106.1" y="602" width="1.2" height="15.6" fill="#a8a8a8" stroke="none" stroke-width="1" />
<rect x="107.3" y="602" width="1.2" height="15.6" fill="#999999" stroke="none" stroke-width="1" />
<rect x="111.8" y="602" width="2.2" height="15.6" fill="#e1e1e1" stroke="none" stroke-width="1" />
<rect x="114" y="602" width="2.8" height="15.6" fill="#838383" stroke="none" stroke-width="1" />
<rect x="116.8" y="602" width="2.8" height="15.6" fill="#cccccc" stroke="none" stroke-width="1" />
<rect x="119.6" y="602" width="0.9" height="15.6" fill="#dfdfdf" stroke="none" stroke-width="1" />
<rect x="120.5" y="602" width="0.6" height="15.6" fill="#2e2e2e" stroke="none" stroke-width="1" />
<rect x="121.1" y="602" width="0.9" height="15.6" fill="#e1e1e1" stroke="none" stroke-width="1" />
<rect x="122" y="602" width="0.6" height="15.6" fill="#1e1e1e" stroke="none" stroke-width="1" />
<rect x="123.1" y="602" width="1.6" height="15.6" fill="#7b7b7b" stroke="none" stroke-width="1" />
<rect x="126.8" y="602" width="0.6" height="15.6" fill="#1f1f1f" stroke="none" stroke-width="1" />
<rect x="127.4" y="602" width="0.9" height="15.6" fill="#999999" stroke="none" stroke-width="1" />
<rect x="128.3" y="602" width="0.9" height="15.6" fill="#232323" stroke="none" stroke-width="1" />
<rect x="129.2" y="602" width="0.6" height="15.6" fill="#222222" stroke="none" stroke-width="1" />
<rect x="129.8" y="602" width="0.6" height="15.6" fill="#bbbbbb" stroke="none" stroke-width="1" />
<rect x="130.9" y="602" width="0.6" height="15.6" fill="#303030" stroke="none" stroke-width="1" />
<rect x="131.5" y="602" width="0.6" height="15.6" fill="#c3c3c3" stroke="none" stroke-width="1" />
<line x1="36.5" y1="553.5" x2="36.5" y2="654.6" stroke="#222" stroke-width="1" />
<line x1="143.5" y1="553.5" x2="143.5" y2="654.6" stroke="#222" stroke-width="1" />
<defs><linearGradient id="cb3" x1="0" x2="1" y1="0" y2="0"><stop offset="0" stop-color="#E8102A"/><stop offset="0.3" stop-color="#E52A40"/><stop offset="0.335" stop-color="#EFB0CC"/><stop offset="0.5" stop-color="#E4CCE4"/><stop offset="0.67" stop-color="#BCAEDC"/><stop offset="0.71" stop-color="#5A4AB0"/><stop offset="0.83" stop-color="#22187A"/><stop offset="1" stop-color="#1A1470"/></linearGradient></defs>
<rect x="36.9" y="617.6" width="102.19" height="4.2" fill="url(#cb3)" stroke="none" stroke-width="1" />
<line x1="38.5" y1="623.2" x2="71.81" y2="623.2" stroke="#F08090" stroke-width="0.8" />
<line x1="36.05" y1="654.6" x2="143.95" y2="654.6" stroke="#111" stroke-width="1.1" />
<line x1="82.51" y1="623.8" x2="82.51" y2="654.6" stroke="#ddd" stroke-width="0.4" />
<polygon points="37,632.32 40.5,634.85 48.5,636.69 61.5,637.61 82.51,638.3 123.5,639.56 134.5,640.83 138,646.92 138,638.3 37,638.3" fill="#C4C4BE"/>
<text x="86.51" y="639.3" font-size="2.8" text-anchor="middle" font-weight="normal" fill="#333" >Zero cross at 10095</text>
<text x="108.5" y="653" font-size="2.6" text-anchor="middle" font-weight="normal" fill="#555" >'Tail' (negatively correlated)</text>
<text x="33.9" y="626.9" font-size="3.6" text-anchor="end" font-weight="bold" fill="#333" >0.75</text>
<line x1="35.1" y1="625.6" x2="36.5" y2="625.6" stroke="#222" stroke-width="0.6" />
<text x="33.9" y="631.07" font-size="3.6" text-anchor="end" font-weight="bold" fill="#333" >0.50</text>
<line x1="35.1" y1="629.77" x2="36.5" y2="629.77" stroke="#222" stroke-width="0.6" />
<text x="33.9" y="635.24" font-size="3.6" text-anchor="end" font-weight="bold" fill="#333" >0.25</text>
<line x1="35.1" y1="633.94" x2="36.5" y2="633.94" stroke="#222" stroke-width="0.6" />
<text x="33.9" y="639.41" font-size="3.6" text-anchor="end" font-weight="bold" fill="#333" >0.00</text>
<line x1="35.1" y1="638.11" x2="36.5" y2="638.11" stroke="#222" stroke-width="0.6" />
<text x="33.9" y="643.58" font-size="3.6" text-anchor="end" font-weight="bold" fill="#333" >-0.25</text>
<line x1="35.1" y1="642.28" x2="36.5" y2="642.28" stroke="#222" stroke-width="0.6" />
<text x="33.9" y="647.75" font-size="3.6" text-anchor="end" font-weight="bold" fill="#333" >-0.50</text>
<line x1="35.1" y1="646.45" x2="36.5" y2="646.45" stroke="#222" stroke-width="0.6" />
<text x="33.9" y="651.92" font-size="3.6" text-anchor="end" font-weight="bold" fill="#333" >-0.75</text>
<line x1="35.1" y1="650.62" x2="36.5" y2="650.62" stroke="#222" stroke-width="0.6" />
<text x="24.9" y="638" font-size="4.9" text-anchor="middle" font-weight="bold" fill="#222" textLength="56" lengthAdjust="spacingAndGlyphs" transform="rotate(-90 24.9 638)" >Ranked list metric (Signal2Noise)</text>
<text x="37" y="659" font-size="3.4" text-anchor="middle" font-weight="normal" fill="#333" >0</text>
<text x="48.5" y="659" font-size="3.4" text-anchor="middle" font-weight="normal" fill="#333" >2,500</text>
<text x="60" y="659" font-size="3.4" text-anchor="middle" font-weight="normal" fill="#333" >5,000</text>
<text x="71.5" y="659" font-size="3.4" text-anchor="middle" font-weight="normal" fill="#333" >7,500</text>
<text x="83" y="659" font-size="3.4" text-anchor="middle" font-weight="normal" fill="#333" >10,000</text>
<text x="94.5" y="659" font-size="3.4" text-anchor="middle" font-weight="normal" fill="#333" >12,500</text>
<text x="106" y="659" font-size="3.4" text-anchor="middle" font-weight="normal" fill="#333" >15,000</text>
<text x="117.5" y="659" font-size="3.4" text-anchor="middle" font-weight="normal" fill="#333" >17,500</text>
<text x="129" y="659" font-size="3.4" text-anchor="middle" font-weight="normal" fill="#333" >20,000</text>
<text x="140.5" y="659" font-size="3.4" text-anchor="middle" font-weight="normal" fill="#333" >22,500</text>
<text x="90" y="664" font-size="5.2" text-anchor="middle" font-weight="bold" fill="#111" textLength="39.5" lengthAdjust="spacingAndGlyphs" >Rank in ordered dataset</text>
<line x1="42.5" y1="668.7" x2="47.5" y2="668.7" stroke="#B8D890" stroke-width="0.8" />
<text x="48.9" y="669.8" font-size="3.4" text-anchor="start" font-weight="normal" fill="#444" textLength="25" lengthAdjust="spacingAndGlyphs" >Enrichment profile</text>
<line x1="78.5" y1="668.7" x2="83.5" y2="668.7" stroke="#333" stroke-width="0.8" />
<text x="85" y="669.8" font-size="3.4" text-anchor="start" font-weight="normal" fill="#444" >Hits</text>
<line x1="94.5" y1="668.7" x2="99.5" y2="668.7" stroke="#bbb" stroke-width="0.6" />
<text x="102" y="669.8" font-size="3.4" text-anchor="start" font-weight="normal" fill="#444" textLength="31.5" lengthAdjust="spacingAndGlyphs" >Ranking metric scores</text>
<text x="147.5" y="633.1" font-size="5.4" text-anchor="start" font-weight="normal" fill="#111" textLength="53.31" lengthAdjust="spacingAndGlyphs" stroke="#111" stroke-width="0.12">Normalized Enrichment</text>
<text x="147.5" y="639.55" font-size="5.4" text-anchor="start" font-weight="normal" fill="#111" textLength="47.47" lengthAdjust="spacingAndGlyphs" stroke="#111" stroke-width="0.12">Score (NES) = 1.596</text>
<text x="147.5" y="646" font-size="5.4" text-anchor="start" font-weight="normal" fill="#111" textLength="50.52" lengthAdjust="spacingAndGlyphs" stroke="#111" stroke-width="0.12">Nominal p-Value = 0.0</text>
<text x="147.5" y="652.45" font-size="5.4" text-anchor="start" font-weight="normal" fill="#111" textLength="47.95" lengthAdjust="spacingAndGlyphs" stroke="#111" stroke-width="0.12">FDR q-Value = 0.069</text>
<line x1="262.5" y1="136.7" x2="262.5" y2="25.2" stroke="#1a1a1a" stroke-width="1.3" />
<line x1="259.9" y1="136.2" x2="262.5" y2="136.2" stroke="#1a1a1a" stroke-width="1.3" />
<text x="256.9" y="139.07" font-size="8.2" text-anchor="end" font-weight="normal" fill="#404040" stroke="#404040" stroke-width="0.08">0</text>
<line x1="259.9" y1="118.2" x2="262.5" y2="118.2" stroke="#1a1a1a" stroke-width="1.3" />
<text x="256.9" y="121.07" font-size="8.2" text-anchor="end" font-weight="normal" fill="#404040" stroke="#404040" stroke-width="0.08">10</text>
<line x1="259.9" y1="100.2" x2="262.5" y2="100.2" stroke="#1a1a1a" stroke-width="1.3" />
<text x="256.9" y="103.07" font-size="8.2" text-anchor="end" font-weight="normal" fill="#404040" stroke="#404040" stroke-width="0.08">20</text>
<line x1="259.9" y1="82.2" x2="262.5" y2="82.2" stroke="#1a1a1a" stroke-width="1.3" />
<text x="256.9" y="85.07" font-size="8.2" text-anchor="end" font-weight="normal" fill="#404040" stroke="#404040" stroke-width="0.08">30</text>
<line x1="259.9" y1="64.2" x2="262.5" y2="64.2" stroke="#1a1a1a" stroke-width="1.3" />
<text x="256.9" y="67.07" font-size="8.2" text-anchor="end" font-weight="normal" fill="#404040" stroke="#404040" stroke-width="0.08">40</text>
<line x1="259.9" y1="46.2" x2="262.5" y2="46.2" stroke="#1a1a1a" stroke-width="1.3" />
<text x="256.9" y="49.07" font-size="8.2" text-anchor="end" font-weight="normal" fill="#404040" stroke="#404040" stroke-width="0.08">50</text>
<line x1="259.9" y1="28.2" x2="262.5" y2="28.2" stroke="#1a1a1a" stroke-width="1.3" />
<text x="256.9" y="31.07" font-size="8.2" text-anchor="end" font-weight="normal" fill="#404040" stroke="#404040" stroke-width="0.08">60</text>
<line x1="262.4" y1="136.2" x2="413.5" y2="136.2" stroke="#1a1a1a" stroke-width="1.3" />
<line x1="262.4" y1="136.2" x2="262.4" y2="138.8" stroke="#1a1a1a" stroke-width="1.2" />
<text x="262.4" y="149.8" font-size="8.2" text-anchor="middle" font-weight="normal" fill="#404040" stroke="#404040" stroke-width="0.08">0</text>
<line x1="292.6" y1="136.2" x2="292.6" y2="138.8" stroke="#1a1a1a" stroke-width="1.2" />
<text x="292.6" y="149.8" font-size="8.2" text-anchor="middle" font-weight="normal" fill="#404040" stroke="#404040" stroke-width="0.08">20</text>
<line x1="322.8" y1="136.2" x2="322.8" y2="138.8" stroke="#1a1a1a" stroke-width="1.2" />
<text x="322.8" y="149.8" font-size="8.2" text-anchor="middle" font-weight="normal" fill="#404040" stroke="#404040" stroke-width="0.08">40</text>
<line x1="353" y1="136.2" x2="353" y2="138.8" stroke="#1a1a1a" stroke-width="1.2" />
<text x="353" y="149.8" font-size="8.2" text-anchor="middle" font-weight="normal" fill="#404040" stroke="#404040" stroke-width="0.08">60</text>
<line x1="383.2" y1="136.2" x2="383.2" y2="138.8" stroke="#1a1a1a" stroke-width="1.2" />
<text x="383.2" y="149.8" font-size="8.2" text-anchor="middle" font-weight="normal" fill="#404040" stroke="#404040" stroke-width="0.08">80</text>
<line x1="413.4" y1="136.2" x2="413.4" y2="138.8" stroke="#1a1a1a" stroke-width="1.2" />
<text x="413.4" y="149.8" font-size="8.2" text-anchor="middle" font-weight="normal" fill="#404040" stroke="#404040" stroke-width="0.08">100</text>
<text x="340" y="159.7" font-size="9.4" text-anchor="middle" font-weight="bold" fill="#222" textLength="10.4" lengthAdjust="spacingAndGlyphs" >Min</text>
<text transform="translate(240.3 80.2) rotate(-90) scale(0.8698 1)" font-size="7.8" text-anchor="middle" fill="#222" stroke="#222" stroke-width="0.34">OCR (pmol/min)</text>
<polyline points="265,54.5 274.95,57.5 284.9,58.75 294.85,58.75 304.8,112 314.75,112 324.7,113.75 334.65,112 344.6,55.75 354.55,53.75 364.5,50 374.45,122.5 384.4,121.25 394.35,121.25 404.3,122" fill="none" stroke="#9E1035" stroke-width="1.45" stroke-linejoin="round" />
<circle cx="265" cy="54.5" r="1.8" fill="#9E1035"/>
<circle cx="274.95" cy="57.5" r="1.8" fill="#9E1035"/>
<circle cx="284.9" cy="58.75" r="1.8" fill="#9E1035"/>
<circle cx="294.85" cy="58.75" r="1.8" fill="#9E1035"/>
<line x1="304.8" y1="110" x2="304.8" y2="114" stroke="#9E1035" stroke-width="1" />
<line x1="302.6" y1="110" x2="307" y2="110" stroke="#9E1035" stroke-width="1" />
<line x1="302.6" y1="114" x2="307" y2="114" stroke="#9E1035" stroke-width="1" />
<circle cx="304.8" cy="112" r="1.8" fill="#9E1035"/>
<line x1="314.75" y1="110" x2="314.75" y2="114" stroke="#9E1035" stroke-width="1" />
<line x1="312.55" y1="110" x2="316.95" y2="110" stroke="#9E1035" stroke-width="1" />
<line x1="312.55" y1="114" x2="316.95" y2="114" stroke="#9E1035" stroke-width="1" />
<circle cx="314.75" cy="112" r="1.8" fill="#9E1035"/>
<line x1="324.7" y1="111.75" x2="324.7" y2="115.75" stroke="#9E1035" stroke-width="1" />
<line x1="322.5" y1="111.75" x2="326.9" y2="111.75" stroke="#9E1035" stroke-width="1" />
<line x1="322.5" y1="115.75" x2="326.9" y2="115.75" stroke="#9E1035" stroke-width="1" />
<circle cx="324.7" cy="113.75" r="1.8" fill="#9E1035"/>
<line x1="334.65" y1="110" x2="334.65" y2="114" stroke="#9E1035" stroke-width="1" />
<line x1="332.45" y1="110" x2="336.85" y2="110" stroke="#9E1035" stroke-width="1" />
<line x1="332.45" y1="114" x2="336.85" y2="114" stroke="#9E1035" stroke-width="1" />
<circle cx="334.65" cy="112" r="1.8" fill="#9E1035"/>
<line x1="344.6" y1="51.75" x2="344.6" y2="59.75" stroke="#9E1035" stroke-width="1" />
<line x1="342.4" y1="51.75" x2="346.8" y2="51.75" stroke="#9E1035" stroke-width="1" />
<line x1="342.4" y1="59.75" x2="346.8" y2="59.75" stroke="#9E1035" stroke-width="1" />
<circle cx="344.6" cy="55.75" r="1.8" fill="#9E1035"/>
<line x1="354.55" y1="49.75" x2="354.55" y2="57.75" stroke="#9E1035" stroke-width="1" />
<line x1="352.35" y1="49.75" x2="356.75" y2="49.75" stroke="#9E1035" stroke-width="1" />
<line x1="352.35" y1="57.75" x2="356.75" y2="57.75" stroke="#9E1035" stroke-width="1" />
<circle cx="354.55" cy="53.75" r="1.8" fill="#9E1035"/>
<line x1="364.5" y1="45" x2="364.5" y2="55" stroke="#9E1035" stroke-width="1" />
<line x1="362.3" y1="45" x2="366.7" y2="45" stroke="#9E1035" stroke-width="1" />
<line x1="362.3" y1="55" x2="366.7" y2="55" stroke="#9E1035" stroke-width="1" />
<circle cx="364.5" cy="50" r="1.8" fill="#9E1035"/>
<line x1="374.45" y1="121.5" x2="374.45" y2="123.5" stroke="#9E1035" stroke-width="1" />
<line x1="372.25" y1="121.5" x2="376.65" y2="121.5" stroke="#9E1035" stroke-width="1" />
<line x1="372.25" y1="123.5" x2="376.65" y2="123.5" stroke="#9E1035" stroke-width="1" />
<circle cx="374.45" cy="122.5" r="1.8" fill="#9E1035"/>
<line x1="384.4" y1="120.25" x2="384.4" y2="122.25" stroke="#9E1035" stroke-width="1" />
<line x1="382.2" y1="120.25" x2="386.6" y2="120.25" stroke="#9E1035" stroke-width="1" />
<line x1="382.2" y1="122.25" x2="386.6" y2="122.25" stroke="#9E1035" stroke-width="1" />
<circle cx="384.4" cy="121.25" r="1.8" fill="#9E1035"/>
<line x1="394.35" y1="120.25" x2="394.35" y2="122.25" stroke="#9E1035" stroke-width="1" />
<line x1="392.15" y1="120.25" x2="396.55" y2="120.25" stroke="#9E1035" stroke-width="1" />
<line x1="392.15" y1="122.25" x2="396.55" y2="122.25" stroke="#9E1035" stroke-width="1" />
<circle cx="394.35" cy="121.25" r="1.8" fill="#9E1035"/>
<line x1="404.3" y1="121" x2="404.3" y2="123" stroke="#9E1035" stroke-width="1" />
<line x1="402.1" y1="121" x2="406.5" y2="121" stroke="#9E1035" stroke-width="1" />
<line x1="402.1" y1="123" x2="406.5" y2="123" stroke="#9E1035" stroke-width="1" />
<circle cx="404.3" cy="122" r="1.8" fill="#9E1035"/>
<polyline points="265,77 274.95,81.25 284.9,83.25 294.85,84.5 304.8,112.5 314.75,112.5 324.7,115 334.65,113 344.6,81.75 354.55,81.75 364.5,81.75 374.45,119.5 384.4,118 394.35,118 404.3,119" fill="none" stroke="#2C426F" stroke-width="1.45" stroke-linejoin="round" />
<circle cx="265" cy="77" r="1.8" fill="#2C426F"/>
<circle cx="274.95" cy="81.25" r="1.8" fill="#2C426F"/>
<line x1="284.9" y1="81.25" x2="284.9" y2="85.25" stroke="#2C426F" stroke-width="1" />
<line x1="282.7" y1="81.25" x2="287.1" y2="81.25" stroke="#2C426F" stroke-width="1" />
<line x1="282.7" y1="85.25" x2="287.1" y2="85.25" stroke="#2C426F" stroke-width="1" />
<circle cx="284.9" cy="83.25" r="1.8" fill="#2C426F"/>
<line x1="294.85" y1="81.5" x2="294.85" y2="87.5" stroke="#2C426F" stroke-width="1" />
<line x1="292.65" y1="81.5" x2="297.05" y2="81.5" stroke="#2C426F" stroke-width="1" />
<line x1="292.65" y1="87.5" x2="297.05" y2="87.5" stroke="#2C426F" stroke-width="1" />
<circle cx="294.85" cy="84.5" r="1.8" fill="#2C426F"/>
<line x1="304.8" y1="109.5" x2="304.8" y2="115.5" stroke="#2C426F" stroke-width="1" />
<line x1="302.6" y1="109.5" x2="307" y2="109.5" stroke="#2C426F" stroke-width="1" />
<line x1="302.6" y1="115.5" x2="307" y2="115.5" stroke="#2C426F" stroke-width="1" />
<circle cx="304.8" cy="112.5" r="1.8" fill="#2C426F"/>
<line x1="314.75" y1="110.5" x2="314.75" y2="114.5" stroke="#2C426F" stroke-width="1" />
<line x1="312.55" y1="110.5" x2="316.95" y2="110.5" stroke="#2C426F" stroke-width="1" />
<line x1="312.55" y1="114.5" x2="316.95" y2="114.5" stroke="#2C426F" stroke-width="1" />
<circle cx="314.75" cy="112.5" r="1.8" fill="#2C426F"/>
<line x1="324.7" y1="112" x2="324.7" y2="118" stroke="#2C426F" stroke-width="1" />
<line x1="322.5" y1="112" x2="326.9" y2="112" stroke="#2C426F" stroke-width="1" />
<line x1="322.5" y1="118" x2="326.9" y2="118" stroke="#2C426F" stroke-width="1" />
<circle cx="324.7" cy="115" r="1.8" fill="#2C426F"/>
<line x1="334.65" y1="111" x2="334.65" y2="115" stroke="#2C426F" stroke-width="1" />
<line x1="332.45" y1="111" x2="336.85" y2="111" stroke="#2C426F" stroke-width="1" />
<line x1="332.45" y1="115" x2="336.85" y2="115" stroke="#2C426F" stroke-width="1" />
<circle cx="334.65" cy="113" r="1.8" fill="#2C426F"/>
<line x1="344.6" y1="77.25" x2="344.6" y2="86.25" stroke="#2C426F" stroke-width="1" />
<line x1="342.4" y1="77.25" x2="346.8" y2="77.25" stroke="#2C426F" stroke-width="1" />
<line x1="342.4" y1="86.25" x2="346.8" y2="86.25" stroke="#2C426F" stroke-width="1" />
<circle cx="344.6" cy="81.75" r="1.8" fill="#2C426F"/>
<line x1="354.55" y1="75.75" x2="354.55" y2="87.75" stroke="#2C426F" stroke-width="1" />
<line x1="352.35" y1="75.75" x2="356.75" y2="75.75" stroke="#2C426F" stroke-width="1" />
<line x1="352.35" y1="87.75" x2="356.75" y2="87.75" stroke="#2C426F" stroke-width="1" />
<circle cx="354.55" cy="81.75" r="1.8" fill="#2C426F"/>
<line x1="364.5" y1="75.25" x2="364.5" y2="88.25" stroke="#2C426F" stroke-width="1" />
<line x1="362.3" y1="75.25" x2="366.7" y2="75.25" stroke="#2C426F" stroke-width="1" />
<line x1="362.3" y1="88.25" x2="366.7" y2="88.25" stroke="#2C426F" stroke-width="1" />
<circle cx="364.5" cy="81.75" r="1.8" fill="#2C426F"/>
<line x1="374.45" y1="116.5" x2="374.45" y2="122.5" stroke="#2C426F" stroke-width="1" />
<line x1="372.25" y1="116.5" x2="376.65" y2="116.5" stroke="#2C426F" stroke-width="1" />
<line x1="372.25" y1="122.5" x2="376.65" y2="122.5" stroke="#2C426F" stroke-width="1" />
<circle cx="374.45" cy="119.5" r="1.8" fill="#2C426F"/>
<line x1="384.4" y1="114" x2="384.4" y2="122" stroke="#2C426F" stroke-width="1" />
<line x1="382.2" y1="114" x2="386.6" y2="114" stroke="#2C426F" stroke-width="1" />
<line x1="382.2" y1="122" x2="386.6" y2="122" stroke="#2C426F" stroke-width="1" />
<circle cx="384.4" cy="118" r="1.8" fill="#2C426F"/>
<line x1="394.35" y1="114" x2="394.35" y2="122" stroke="#2C426F" stroke-width="1" />
<line x1="392.15" y1="114" x2="396.55" y2="114" stroke="#2C426F" stroke-width="1" />
<line x1="392.15" y1="122" x2="396.55" y2="122" stroke="#2C426F" stroke-width="1" />
<circle cx="394.35" cy="118" r="1.8" fill="#2C426F"/>
<line x1="404.3" y1="115" x2="404.3" y2="123" stroke="#2C426F" stroke-width="1" />
<line x1="402.1" y1="115" x2="406.5" y2="115" stroke="#2C426F" stroke-width="1" />
<line x1="402.1" y1="123" x2="406.5" y2="123" stroke="#2C426F" stroke-width="1" />
<circle cx="404.3" cy="119" r="1.8" fill="#2C426F"/>
<line x1="378.8" y1="40" x2="390" y2="40" stroke="#9E1035" stroke-width="1.4" />
<circle cx="384.4" cy="40" r="1.8" fill="#9E1035"/>
<text x="392.5" y="42.6" font-size="8.8" text-anchor="start" font-weight="normal" fill="#333" textLength="23" lengthAdjust="spacingAndGlyphs"  stroke="#333" stroke-width="0.18">Thorax</text>
<line x1="378.8" y1="52.5" x2="390" y2="52.5" stroke="#2C426F" stroke-width="1.4" />
<circle cx="384.4" cy="52.5" r="1.8" fill="#2C426F"/>
<text x="392.5" y="55.1" font-size="8.8" text-anchor="start" font-weight="normal" fill="#333" textLength="11.09" lengthAdjust="spacingAndGlyphs"  stroke="#333" stroke-width="0.18">Tail</text>
<rect x="460.4" y="35" width="17.8" height="100.9" fill="#A8062C" stroke="none" stroke-width="1" />
<rect x="485.8" y="69.6" width="17.3" height="66.3" fill="#2F4B7E" stroke="none" stroke-width="1" />
<line x1="469.3" y1="34.2" x2="469.3" y2="35.5" stroke="#222" stroke-width="0.8" />
<line x1="467.3" y1="34.2" x2="471.3" y2="34.2" stroke="#222" stroke-width="0.8" />
<line x1="494.4" y1="68.6" x2="494.4" y2="70" stroke="#222" stroke-width="0.8" />
<line x1="492.4" y1="68.6" x2="496.4" y2="68.6" stroke="#222" stroke-width="0.8" />
<line x1="456.5" y1="136.4" x2="456.5" y2="19.5" stroke="#1a1a1a" stroke-width="1.3" />
<line x1="453.9" y1="135.9" x2="456.5" y2="135.9" stroke="#1a1a1a" stroke-width="1.3" />
<text x="450.9" y="138.7" font-size="8" text-anchor="end" font-weight="normal" fill="#404040" stroke="#404040" stroke-width="0.08">0</text>
<line x1="453.9" y1="113.22" x2="456.5" y2="113.22" stroke="#1a1a1a" stroke-width="1.3" />
<text x="450.9" y="116.02" font-size="8" text-anchor="end" font-weight="normal" fill="#404040" stroke="#404040" stroke-width="0.08">10</text>
<line x1="453.9" y1="90.54" x2="456.5" y2="90.54" stroke="#1a1a1a" stroke-width="1.3" />
<text x="450.9" y="93.34" font-size="8" text-anchor="end" font-weight="normal" fill="#404040" stroke="#404040" stroke-width="0.08">20</text>
<line x1="453.9" y1="67.86" x2="456.5" y2="67.86" stroke="#1a1a1a" stroke-width="1.3" />
<text x="450.9" y="70.66" font-size="8" text-anchor="end" font-weight="normal" fill="#404040" stroke="#404040" stroke-width="0.08">30</text>
<line x1="453.9" y1="45.18" x2="456.5" y2="45.18" stroke="#1a1a1a" stroke-width="1.3" />
<text x="450.9" y="47.98" font-size="8" text-anchor="end" font-weight="normal" fill="#404040" stroke="#404040" stroke-width="0.08">40</text>
<line x1="453.9" y1="22.5" x2="456.5" y2="22.5" stroke="#1a1a1a" stroke-width="1.3" />
<text x="450.9" y="25.3" font-size="8" text-anchor="end" font-weight="normal" fill="#404040" stroke="#404040" stroke-width="0.08">50</text>
<line x1="456.3" y1="135.9" x2="509" y2="135.9" stroke="#1a1a1a" stroke-width="1.3" />
<text x="469.3" y="146.2" font-size="8.8" text-anchor="middle" font-weight="normal" fill="#333" textLength="23" lengthAdjust="spacingAndGlyphs"  stroke="#333" stroke-width="0.18">Thorax</text>
<text x="494.4" y="146.2" font-size="8.8" text-anchor="middle" font-weight="normal" fill="#333" textLength="11.09" lengthAdjust="spacingAndGlyphs"  stroke="#333" stroke-width="0.18">Tail</text>
<text x="494.4" y="68.8" font-size="9.5" text-anchor="middle" font-weight="normal" fill="#222" stroke="#222" stroke-width="0.3">***</text>
<text transform="translate(433.9 77) rotate(-90) scale(0.8517 1)" font-size="7.8" text-anchor="middle" fill="#222" stroke="#222" stroke-width="0.34">Basal respiration OCR (pmol/min)</text>
<line x1="37.3" y1="317.4" x2="37.3" y2="195.73" stroke="#1a1a1a" stroke-width="1.3" />
<line x1="34.7" y1="316.9" x2="37.3" y2="316.9" stroke="#1a1a1a" stroke-width="1.3" />
<text x="31.7" y="319.56" font-size="7.6" text-anchor="end" font-weight="normal" fill="#404040" stroke="#404040" stroke-width="0.08">0</text>
<line x1="34.7" y1="277.51" x2="37.3" y2="277.51" stroke="#1a1a1a" stroke-width="1.3" />
<text x="31.7" y="280.17" font-size="7.6" text-anchor="end" font-weight="normal" fill="#404040" stroke="#404040" stroke-width="0.08">3</text>
<line x1="34.7" y1="238.12" x2="37.3" y2="238.12" stroke="#1a1a1a" stroke-width="1.3" />
<text x="31.7" y="240.78" font-size="7.6" text-anchor="end" font-weight="normal" fill="#404040" stroke="#404040" stroke-width="0.08">6</text>
<line x1="34.7" y1="198.73" x2="37.3" y2="198.73" stroke="#1a1a1a" stroke-width="1.3" />
<text x="31.7" y="201.39" font-size="7.6" text-anchor="end" font-weight="normal" fill="#404040" stroke="#404040" stroke-width="0.08">9</text>
<line x1="37" y1="316.9" x2="120" y2="316.9" stroke="#1a1a1a" stroke-width="1.3" />
<text x="60" y="327.2" font-size="8.8" text-anchor="middle" font-weight="normal" fill="#333" textLength="23" lengthAdjust="spacingAndGlyphs"  stroke="#333" stroke-width="0.18">Thorax</text>
<text x="99.5" y="327.2" font-size="8.8" text-anchor="middle" font-weight="normal" fill="#333" textLength="11.09" lengthAdjust="spacingAndGlyphs"  stroke="#333" stroke-width="0.18">Tail</text>
<text transform="translate(18.6 256.9) rotate(-90) scale(0.9366 1)" font-size="7.8" text-anchor="middle" fill="#222" stroke="#222" stroke-width="0.34">MTG (MFI *10<tspan dy="-2.6" font-size="5">3</tspan><tspan dy="2.6">)</tspan></text>
<line x1="58.3" y1="208.58" x2="100" y2="234.18" stroke="#111" stroke-width="1.35" />
<line x1="58.3" y1="211.86" x2="100" y2="234.18" stroke="#111" stroke-width="1.35" />
<line x1="58.3" y1="240.09" x2="100" y2="264.38" stroke="#111" stroke-width="1.35" />
<line x1="58.3" y1="276.2" x2="100" y2="286.7" stroke="#111" stroke-width="1.35" />
<line x1="58.3" y1="276.85" x2="100" y2="293.27" stroke="#111" stroke-width="1.35" />
<line x1="58.3" y1="284.07" x2="100" y2="293.27" stroke="#111" stroke-width="1.35" />
<line x1="58.3" y1="289.98" x2="100" y2="299.83" stroke="#111" stroke-width="1.35" />
<line x1="58.3" y1="291.95" x2="100" y2="301.14" stroke="#111" stroke-width="1.35" />
<line x1="58.3" y1="293.27" x2="100" y2="302.46" stroke="#111" stroke-width="1.35" />
<line x1="58.3" y1="293.92" x2="100" y2="303.77" stroke="#111" stroke-width="1.35" />
<line x1="58.3" y1="297.86" x2="100" y2="301.14" stroke="#111" stroke-width="1.35" />
<circle cx="58.3" cy="208.58" r="1.95" fill="#6A1530"/>
<circle cx="100" cy="234.18" r="1.95" fill="#1C2133"/>
<circle cx="58.3" cy="211.86" r="1.95" fill="#6A1530"/>
<circle cx="100" cy="234.18" r="1.95" fill="#1C2133"/>
<circle cx="58.3" cy="240.09" r="1.95" fill="#6A1530"/>
<circle cx="100" cy="264.38" r="1.95" fill="#1C2133"/>
<circle cx="58.3" cy="276.2" r="1.95" fill="#6A1530"/>
<circle cx="100" cy="286.7" r="1.95" fill="#1C2133"/>
<circle cx="58.3" cy="276.85" r="1.95" fill="#6A1530"/>
<circle cx="100" cy="293.27" r="1.95" fill="#1C2133"/>
<circle cx="58.3" cy="284.07" r="1.95" fill="#6A1530"/>
<circle cx="100" cy="293.27" r="1.95" fill="#1C2133"/>
<circle cx="58.3" cy="289.98" r="1.95" fill="#6A1530"/>
<circle cx="100" cy="299.83" r="1.95" fill="#1C2133"/>
<circle cx="58.3" cy="291.95" r="1.95" fill="#6A1530"/>
<circle cx="100" cy="301.14" r="1.95" fill="#1C2133"/>
<circle cx="58.3" cy="293.27" r="1.95" fill="#6A1530"/>
<circle cx="100" cy="302.46" r="1.95" fill="#1C2133"/>
<circle cx="58.3" cy="293.92" r="1.95" fill="#6A1530"/>
<circle cx="100" cy="303.77" r="1.95" fill="#1C2133"/>
<circle cx="58.3" cy="297.86" r="1.95" fill="#6A1530"/>
<circle cx="100" cy="301.14" r="1.95" fill="#1C2133"/>
<text x="100" y="218.7" font-size="9.5" text-anchor="middle" font-weight="normal" fill="#222" stroke="#222" stroke-width="0.3">***</text>
<line x1="201.5" y1="316.9" x2="201.5" y2="198.2" stroke="#1a1a1a" stroke-width="1.3" />
<line x1="198.9" y1="316.4" x2="201.5" y2="316.4" stroke="#1a1a1a" stroke-width="1.3" />
<text x="195.9" y="319.06" font-size="7.6" text-anchor="end" font-weight="normal" fill="#404040" stroke="#404040" stroke-width="0.08">0</text>
<line x1="198.9" y1="287.6" x2="201.5" y2="287.6" stroke="#1a1a1a" stroke-width="1.3" />
<text x="195.9" y="290.26" font-size="7.6" text-anchor="end" font-weight="normal" fill="#404040" stroke="#404040" stroke-width="0.08">3</text>
<line x1="198.9" y1="258.8" x2="201.5" y2="258.8" stroke="#1a1a1a" stroke-width="1.3" />
<text x="195.9" y="261.46" font-size="7.6" text-anchor="end" font-weight="normal" fill="#404040" stroke="#404040" stroke-width="0.08">6</text>
<line x1="198.9" y1="230" x2="201.5" y2="230" stroke="#1a1a1a" stroke-width="1.3" />
<text x="195.9" y="232.66" font-size="7.6" text-anchor="end" font-weight="normal" fill="#404040" stroke="#404040" stroke-width="0.08">9</text>
<line x1="198.9" y1="201.2" x2="201.5" y2="201.2" stroke="#1a1a1a" stroke-width="1.3" />
<text x="195.9" y="203.86" font-size="7.6" text-anchor="end" font-weight="normal" fill="#404040" stroke="#404040" stroke-width="0.08">12</text>
<line x1="201.25" y1="316.4" x2="283.75" y2="316.4" stroke="#1a1a1a" stroke-width="1.3" />
<text x="223" y="326.6" font-size="8.8" text-anchor="middle" font-weight="normal" fill="#333" textLength="23" lengthAdjust="spacingAndGlyphs"  stroke="#333" stroke-width="0.18">Thorax</text>
<text x="262.5" y="326.6" font-size="8.8" text-anchor="middle" font-weight="normal" fill="#333" textLength="11.09" lengthAdjust="spacingAndGlyphs"  stroke="#333" stroke-width="0.18">Tail</text>
<text transform="translate(177.7 255.5) rotate(-90) scale(0.8805 1)" font-size="7.8" text-anchor="middle" fill="#222" stroke="#222" stroke-width="0.34">TMRE (MFI *10<tspan dy="-2.6" font-size="5">3</tspan><tspan dy="2.6">) FCCP corrected</tspan></text>
<line x1="220.9" y1="216.37" x2="259.5" y2="243.73" stroke="#111" stroke-width="1.35" />
<line x1="220.9" y1="216.37" x2="259.5" y2="255.92" stroke="#111" stroke-width="1.35" />
<line x1="220.9" y1="223.18" x2="259.5" y2="255.92" stroke="#111" stroke-width="1.35" />
<line x1="220.9" y1="241.04" x2="259.5" y2="272.34" stroke="#111" stroke-width="1.35" />
<line x1="220.9" y1="245.26" x2="259.5" y2="281.84" stroke="#111" stroke-width="1.35" />
<line x1="220.9" y1="249.3" x2="259.5" y2="272.34" stroke="#111" stroke-width="1.35" />
<line x1="220.9" y1="254.48" x2="259.5" y2="288.56" stroke="#111" stroke-width="1.35" />
<line x1="220.9" y1="265.62" x2="259.5" y2="304.78" stroke="#111" stroke-width="1.35" />
<line x1="220.9" y1="265.62" x2="259.5" y2="307.18" stroke="#111" stroke-width="1.35" />
<line x1="220.9" y1="273.2" x2="259.5" y2="309.58" stroke="#111" stroke-width="1.35" />
<line x1="220.9" y1="279.63" x2="259.5" y2="311.98" stroke="#111" stroke-width="1.35" />
<circle cx="220.9" cy="216.37" r="1.95" fill="#6A1530"/>
<circle cx="259.5" cy="243.73" r="1.95" fill="#1C2133"/>
<circle cx="220.9" cy="216.37" r="1.95" fill="#6A1530"/>
<circle cx="259.5" cy="255.92" r="1.95" fill="#1C2133"/>
<circle cx="220.9" cy="223.18" r="1.95" fill="#6A1530"/>
<circle cx="259.5" cy="255.92" r="1.95" fill="#1C2133"/>
<circle cx="220.9" cy="241.04" r="1.95" fill="#6A1530"/>
<circle cx="259.5" cy="272.34" r="1.95" fill="#1C2133"/>
<circle cx="220.9" cy="245.26" r="1.95" fill="#6A1530"/>
<circle cx="259.5" cy="281.84" r="1.95" fill="#1C2133"/>
<circle cx="220.9" cy="249.3" r="1.95" fill="#6A1530"/>
<circle cx="259.5" cy="272.34" r="1.95" fill="#1C2133"/>
<circle cx="220.9" cy="254.48" r="1.95" fill="#6A1530"/>
<circle cx="259.5" cy="288.56" r="1.95" fill="#1C2133"/>
<circle cx="220.9" cy="265.62" r="1.95" fill="#6A1530"/>
<circle cx="259.5" cy="304.78" r="1.95" fill="#1C2133"/>
<circle cx="220.9" cy="265.62" r="1.95" fill="#6A1530"/>
<circle cx="259.5" cy="307.18" r="1.95" fill="#1C2133"/>
<circle cx="220.9" cy="273.2" r="1.95" fill="#6A1530"/>
<circle cx="259.5" cy="309.58" r="1.95" fill="#1C2133"/>
<circle cx="220.9" cy="279.63" r="1.95" fill="#6A1530"/>
<circle cx="259.5" cy="311.98" r="1.95" fill="#1C2133"/>
<text x="259.5" y="229.4" font-size="9.5" text-anchor="middle" font-weight="normal" fill="#222" stroke="#222" stroke-width="0.3">**</text>
<rect x="114.2" y="192.4" width="46.1" height="43.2" fill="white" stroke="#111" stroke-width="1.2" />
<line x1="116.2" y1="236.1" x2="116.2" y2="237.6" stroke="#222" stroke-width="0.5" />
<line x1="119.37" y1="236.1" x2="119.37" y2="237" stroke="#222" stroke-width="0.5" />
<line x1="121.22" y1="236.1" x2="121.22" y2="237" stroke="#222" stroke-width="0.5" />
<line x1="122.54" y1="236.1" x2="122.54" y2="237" stroke="#222" stroke-width="0.5" />
<line x1="123.56" y1="236.1" x2="123.56" y2="237" stroke="#222" stroke-width="0.5" />
<line x1="124.39" y1="236.1" x2="124.39" y2="237" stroke="#222" stroke-width="0.5" />
<line x1="125.09" y1="236.1" x2="125.09" y2="237" stroke="#222" stroke-width="0.5" />
<line x1="125.71" y1="236.1" x2="125.71" y2="237" stroke="#222" stroke-width="0.5" />
<line x1="126.24" y1="236.1" x2="126.24" y2="237" stroke="#222" stroke-width="0.5" />
<line x1="126.73" y1="236.1" x2="126.73" y2="237.6" stroke="#222" stroke-width="0.5" />
<line x1="129.89" y1="236.1" x2="129.89" y2="237" stroke="#222" stroke-width="0.5" />
<line x1="131.75" y1="236.1" x2="131.75" y2="237" stroke="#222" stroke-width="0.5" />
<line x1="133.06" y1="236.1" x2="133.06" y2="237" stroke="#222" stroke-width="0.5" />
<line x1="134.08" y1="236.1" x2="134.08" y2="237" stroke="#222" stroke-width="0.5" />
<line x1="134.92" y1="236.1" x2="134.92" y2="237" stroke="#222" stroke-width="0.5" />
<line x1="135.62" y1="236.1" x2="135.62" y2="237" stroke="#222" stroke-width="0.5" />
<line x1="136.23" y1="236.1" x2="136.23" y2="237" stroke="#222" stroke-width="0.5" />
<line x1="136.77" y1="236.1" x2="136.77" y2="237" stroke="#222" stroke-width="0.5" />
<line x1="137.25" y1="236.1" x2="137.25" y2="237.6" stroke="#222" stroke-width="0.5" />
<line x1="140.42" y1="236.1" x2="140.42" y2="237" stroke="#222" stroke-width="0.5" />
<line x1="142.27" y1="236.1" x2="142.27" y2="237" stroke="#222" stroke-width="0.5" />
<line x1="143.59" y1="236.1" x2="143.59" y2="237" stroke="#222" stroke-width="0.5" />
<line x1="144.61" y1="236.1" x2="144.61" y2="237" stroke="#222" stroke-width="0.5" />
<line x1="145.44" y1="236.1" x2="145.44" y2="237" stroke="#222" stroke-width="0.5" />
<line x1="146.14" y1="236.1" x2="146.14" y2="237" stroke="#222" stroke-width="0.5" />
<line x1="146.76" y1="236.1" x2="146.76" y2="237" stroke="#222" stroke-width="0.5" />
<line x1="147.29" y1="236.1" x2="147.29" y2="237" stroke="#222" stroke-width="0.5" />
<line x1="147.78" y1="236.1" x2="147.78" y2="237.6" stroke="#222" stroke-width="0.5" />
<line x1="150.94" y1="236.1" x2="150.94" y2="237" stroke="#222" stroke-width="0.5" />
<line x1="152.8" y1="236.1" x2="152.8" y2="237" stroke="#222" stroke-width="0.5" />
<line x1="154.11" y1="236.1" x2="154.11" y2="237" stroke="#222" stroke-width="0.5" />
<line x1="155.13" y1="236.1" x2="155.13" y2="237" stroke="#222" stroke-width="0.5" />
<line x1="155.97" y1="236.1" x2="155.97" y2="237" stroke="#222" stroke-width="0.5" />
<line x1="156.67" y1="236.1" x2="156.67" y2="237" stroke="#222" stroke-width="0.5" />
<line x1="157.28" y1="236.1" x2="157.28" y2="237" stroke="#222" stroke-width="0.5" />
<line x1="157.82" y1="236.1" x2="157.82" y2="237" stroke="#222" stroke-width="0.5" />
<line x1="113.7" y1="195.1" x2="113.1" y2="195.1" stroke="#222" stroke-width="0.5" />
<line x1="113.7" y1="197.8" x2="113.1" y2="197.8" stroke="#222" stroke-width="0.5" />
<line x1="113.7" y1="200.5" x2="113.1" y2="200.5" stroke="#222" stroke-width="0.5" />
<line x1="113.7" y1="203.2" x2="112.4" y2="203.2" stroke="#222" stroke-width="0.5" />
<line x1="113.7" y1="205.9" x2="113.1" y2="205.9" stroke="#222" stroke-width="0.5" />
<line x1="113.7" y1="208.6" x2="113.1" y2="208.6" stroke="#222" stroke-width="0.5" />
<line x1="113.7" y1="211.3" x2="113.1" y2="211.3" stroke="#222" stroke-width="0.5" />
<line x1="113.7" y1="214" x2="112.4" y2="214" stroke="#222" stroke-width="0.5" />
<line x1="113.7" y1="216.7" x2="113.1" y2="216.7" stroke="#222" stroke-width="0.5" />
<line x1="113.7" y1="219.4" x2="113.1" y2="219.4" stroke="#222" stroke-width="0.5" />
<line x1="113.7" y1="222.1" x2="113.1" y2="222.1" stroke="#222" stroke-width="0.5" />
<line x1="113.7" y1="224.8" x2="112.4" y2="224.8" stroke="#222" stroke-width="0.5" />
<line x1="113.7" y1="227.5" x2="113.1" y2="227.5" stroke="#222" stroke-width="0.5" />
<line x1="113.7" y1="230.2" x2="113.1" y2="230.2" stroke="#222" stroke-width="0.5" />
<line x1="113.7" y1="232.9" x2="113.1" y2="232.9" stroke="#222" stroke-width="0.5" />
<polyline points="122.5,234.9 122.9,234.9 123.3,234.9 123.7,234.9 124.1,234.9 124.5,234.9 124.9,234.9 125.3,234.9 125.7,234.9 126.1,234.89 126.5,234.89 126.9,234.87 127.3,234.84 127.7,234.78 128.1,234.67 128.5,234.48 128.9,234.15 129.3,233.61 129.7,232.77 130.1,231.53 130.5,229.77 130.9,227.4 131.3,224.36 131.7,220.68 132.1,216.45 132.5,211.91 132.9,207.38 133.3,203.24 133.7,199.91 134.1,197.75 134.5,197 134.9,198.03 135.3,200.97 135.7,205.36 136.1,210.56 136.5,215.93 136.9,220.91 137.3,225.14 137.7,228.45 138.1,230.87 138.5,232.52 138.9,233.57 139.3,234.2 139.7,234.55 140.1,234.73 140.5,234.83 140.9,234.87 141.3,234.89 141.7,234.9 142.1,234.9 142.5,234.9 142.9,234.9 143.3,234.9 143.7,234.9 144.1,234.9 144.5,234.9 144.9,234.9 145.3,234.9 145.7,234.9 146.1,234.9 146.5,234.9" fill="none" stroke="#4A6C9C" stroke-width="1" stroke-linejoin="round" />
<polyline points="125.7,234.9 126.1,234.9 126.5,234.9 126.9,234.9 127.3,234.9 127.7,234.9 128.1,234.9 128.5,234.9 128.9,234.9 129.3,234.89 129.7,234.89 130.1,234.87 130.5,234.84 130.9,234.78 131.3,234.66 131.7,234.46 132.1,234.12 132.5,233.56 132.9,232.68 133.3,231.39 133.7,229.55 134.1,227.08 134.5,223.92 134.9,220.08 135.3,215.67 135.7,210.94 136.1,206.22 136.5,201.91 136.9,198.44 137.3,196.18 137.7,195.4 138.1,196.48 138.5,199.54 138.9,204.11 139.3,209.53 139.7,215.13 140.1,220.32 140.5,224.73 140.9,228.18 141.3,230.7 141.7,232.42 142.1,233.51 142.5,234.17 142.9,234.53 143.3,234.73 143.7,234.82 144.1,234.87 144.5,234.89 144.9,234.89 145.3,234.9 145.7,234.9 146.1,234.9 146.5,234.9 146.9,234.9 147.3,234.9 147.7,234.9 148.1,234.9 148.5,234.9 148.9,234.9 149.3,234.9 149.7,234.9" fill="none" stroke="#A33058" stroke-width="1" stroke-linejoin="round" />
<text x="137.5" y="246.2" font-size="8.6" text-anchor="middle" font-weight="normal" fill="#333" textLength="16.5" lengthAdjust="spacingAndGlyphs"  stroke="#333" stroke-width="0.18">MTG</text>
<rect x="269.4" y="192" width="46.9" height="42.8" fill="white" stroke="#111" stroke-width="1.2" />
<line x1="271.4" y1="235.3" x2="271.4" y2="236.8" stroke="#222" stroke-width="0.5" />
<line x1="274.63" y1="235.3" x2="274.63" y2="236.2" stroke="#222" stroke-width="0.5" />
<line x1="276.52" y1="235.3" x2="276.52" y2="236.2" stroke="#222" stroke-width="0.5" />
<line x1="277.86" y1="235.3" x2="277.86" y2="236.2" stroke="#222" stroke-width="0.5" />
<line x1="278.9" y1="235.3" x2="278.9" y2="236.2" stroke="#222" stroke-width="0.5" />
<line x1="279.75" y1="235.3" x2="279.75" y2="236.2" stroke="#222" stroke-width="0.5" />
<line x1="280.46" y1="235.3" x2="280.46" y2="236.2" stroke="#222" stroke-width="0.5" />
<line x1="281.09" y1="235.3" x2="281.09" y2="236.2" stroke="#222" stroke-width="0.5" />
<line x1="281.63" y1="235.3" x2="281.63" y2="236.2" stroke="#222" stroke-width="0.5" />
<line x1="282.12" y1="235.3" x2="282.12" y2="236.8" stroke="#222" stroke-width="0.5" />
<line x1="285.35" y1="235.3" x2="285.35" y2="236.2" stroke="#222" stroke-width="0.5" />
<line x1="287.24" y1="235.3" x2="287.24" y2="236.2" stroke="#222" stroke-width="0.5" />
<line x1="288.58" y1="235.3" x2="288.58" y2="236.2" stroke="#222" stroke-width="0.5" />
<line x1="289.62" y1="235.3" x2="289.62" y2="236.2" stroke="#222" stroke-width="0.5" />
<line x1="290.47" y1="235.3" x2="290.47" y2="236.2" stroke="#222" stroke-width="0.5" />
<line x1="291.19" y1="235.3" x2="291.19" y2="236.2" stroke="#222" stroke-width="0.5" />
<line x1="291.81" y1="235.3" x2="291.81" y2="236.2" stroke="#222" stroke-width="0.5" />
<line x1="292.36" y1="235.3" x2="292.36" y2="236.2" stroke="#222" stroke-width="0.5" />
<line x1="292.85" y1="235.3" x2="292.85" y2="236.8" stroke="#222" stroke-width="0.5" />
<line x1="296.08" y1="235.3" x2="296.08" y2="236.2" stroke="#222" stroke-width="0.5" />
<line x1="297.97" y1="235.3" x2="297.97" y2="236.2" stroke="#222" stroke-width="0.5" />
<line x1="299.31" y1="235.3" x2="299.31" y2="236.2" stroke="#222" stroke-width="0.5" />
<line x1="300.35" y1="235.3" x2="300.35" y2="236.2" stroke="#222" stroke-width="0.5" />
<line x1="301.2" y1="235.3" x2="301.2" y2="236.2" stroke="#222" stroke-width="0.5" />
<line x1="301.91" y1="235.3" x2="301.91" y2="236.2" stroke="#222" stroke-width="0.5" />
<line x1="302.54" y1="235.3" x2="302.54" y2="236.2" stroke="#222" stroke-width="0.5" />
<line x1="303.08" y1="235.3" x2="303.08" y2="236.2" stroke="#222" stroke-width="0.5" />
<line x1="303.57" y1="235.3" x2="303.57" y2="236.8" stroke="#222" stroke-width="0.5" />
<line x1="306.8" y1="235.3" x2="306.8" y2="236.2" stroke="#222" stroke-width="0.5" />
<line x1="308.69" y1="235.3" x2="308.69" y2="236.2" stroke="#222" stroke-width="0.5" />
<line x1="310.03" y1="235.3" x2="310.03" y2="236.2" stroke="#222" stroke-width="0.5" />
<line x1="311.07" y1="235.3" x2="311.07" y2="236.2" stroke="#222" stroke-width="0.5" />
<line x1="311.92" y1="235.3" x2="311.92" y2="236.2" stroke="#222" stroke-width="0.5" />
<line x1="312.64" y1="235.3" x2="312.64" y2="236.2" stroke="#222" stroke-width="0.5" />
<line x1="313.26" y1="235.3" x2="313.26" y2="236.2" stroke="#222" stroke-width="0.5" />
<line x1="313.81" y1="235.3" x2="313.81" y2="236.2" stroke="#222" stroke-width="0.5" />
<line x1="268.9" y1="194.68" x2="268.3" y2="194.68" stroke="#222" stroke-width="0.5" />
<line x1="268.9" y1="197.35" x2="268.3" y2="197.35" stroke="#222" stroke-width="0.5" />
<line x1="268.9" y1="200.03" x2="268.3" y2="200.03" stroke="#222" stroke-width="0.5" />
<line x1="268.9" y1="202.7" x2="267.6" y2="202.7" stroke="#222" stroke-width="0.5" />
<line x1="268.9" y1="205.38" x2="268.3" y2="205.38" stroke="#222" stroke-width="0.5" />
<line x1="268.9" y1="208.05" x2="268.3" y2="208.05" stroke="#222" stroke-width="0.5" />
<line x1="268.9" y1="210.72" x2="268.3" y2="210.72" stroke="#222" stroke-width="0.5" />
<line x1="268.9" y1="213.4" x2="267.6" y2="213.4" stroke="#222" stroke-width="0.5" />
<line x1="268.9" y1="216.08" x2="268.3" y2="216.08" stroke="#222" stroke-width="0.5" />
<line x1="268.9" y1="218.75" x2="268.3" y2="218.75" stroke="#222" stroke-width="0.5" />
<line x1="268.9" y1="221.43" x2="268.3" y2="221.43" stroke="#222" stroke-width="0.5" />
<line x1="268.9" y1="224.1" x2="267.6" y2="224.1" stroke="#222" stroke-width="0.5" />
<line x1="268.9" y1="226.78" x2="268.3" y2="226.78" stroke="#222" stroke-width="0.5" />
<line x1="268.9" y1="229.45" x2="268.3" y2="229.45" stroke="#222" stroke-width="0.5" />
<line x1="268.9" y1="232.12" x2="268.3" y2="232.12" stroke="#222" stroke-width="0.5" />
<polyline points="284.5,234.07 284.9,234.05 285.3,234.02 285.7,233.98 286.1,233.92 286.5,233.83 286.9,233.71 287.3,233.53 287.7,233.29 288.1,232.97 288.5,232.54 288.9,231.98 289.3,231.28 289.7,230.39 290.1,229.3 290.5,227.98 290.9,226.42 291.3,224.62 291.7,222.57 292.1,220.31 292.5,217.85 292.9,215.25 293.3,212.57 293.7,209.89 294.1,207.3 294.5,204.9 294.9,202.77 295.3,201.01 295.7,199.69 296.1,198.88 296.5,198.6 296.9,199.57 297.3,202.32 297.7,206.43 298.1,211.3 298.5,216.33 298.9,221 299.3,224.96 299.7,228.06 300.1,230.33 300.5,231.87 300.9,232.85 301.3,233.44 301.7,233.77 302.1,233.94 302.5,234.03 302.9,234.07 303.3,234.09 303.7,234.1 304.1,234.1 304.5,234.1 304.9,234.1 305.3,234.1 305.7,234.1 306.1,234.1 306.5,234.1 306.9,234.1 307.3,234.1 307.7,234.1 308.1,234.1 308.5,234.1" fill="none" stroke="#4A6C9C" stroke-width="1" stroke-linejoin="round" />
<polyline points="287.7,234.09 288.1,234.08 288.5,234.06 288.9,234.04 289.3,234 289.7,233.95 290.1,233.87 290.5,233.74 290.9,233.57 291.3,233.32 291.7,232.98 292.1,232.52 292.5,231.9 292.9,231.1 293.3,230.07 293.7,228.79 294.1,227.23 294.5,225.37 294.9,223.2 295.3,220.73 295.7,217.98 296.1,215.02 296.5,211.91 296.9,208.74 297.3,205.63 297.7,202.71 298.1,200.1 298.5,197.91 298.9,196.27 299.3,195.25 299.7,194.9 300.1,196.11 300.5,199.51 300.9,204.51 301.3,210.32 301.7,216.15 302.1,221.37 302.5,225.62 302.9,228.79 303.3,230.98 303.7,232.38 304.1,233.21 304.5,233.66 304.9,233.9 305.3,234.01 305.7,234.07 306.1,234.09 306.5,234.1 306.9,234.1 307.3,234.1 307.7,234.1 308.1,234.1 308.5,234.1 308.9,234.1 309.3,234.1 309.7,234.1 310.1,234.1 310.5,234.1 310.9,234.1 311.3,234.1 311.7,234.1" fill="none" stroke="#A33058" stroke-width="1" stroke-linejoin="round" />
<text x="295.2" y="245.4" font-size="8.6" text-anchor="middle" font-weight="normal" fill="#333" textLength="21" lengthAdjust="spacingAndGlyphs"  stroke="#333" stroke-width="0.18">TMRE</text>
<line x1="37.5" y1="479.7" x2="37.5" y2="367.8" stroke="#1a1a1a" stroke-width="1.3" />
<line x1="34.9" y1="479.2" x2="37.5" y2="479.2" stroke="#1a1a1a" stroke-width="1.3" />
<text x="31.9" y="481.86" font-size="7.6" text-anchor="end" font-weight="normal" fill="#404040" stroke="#404040" stroke-width="0.08">0</text>
<line x1="34.9" y1="452.1" x2="37.5" y2="452.1" stroke="#1a1a1a" stroke-width="1.3" />
<text x="31.9" y="454.76" font-size="7.6" text-anchor="end" font-weight="normal" fill="#404040" stroke="#404040" stroke-width="0.08">5</text>
<line x1="34.9" y1="425" x2="37.5" y2="425" stroke="#1a1a1a" stroke-width="1.3" />
<text x="31.9" y="427.66" font-size="7.6" text-anchor="end" font-weight="normal" fill="#404040" stroke="#404040" stroke-width="0.08">10</text>
<line x1="34.9" y1="397.9" x2="37.5" y2="397.9" stroke="#1a1a1a" stroke-width="1.3" />
<text x="31.9" y="400.56" font-size="7.6" text-anchor="end" font-weight="normal" fill="#404040" stroke="#404040" stroke-width="0.08">15</text>
<line x1="34.9" y1="370.8" x2="37.5" y2="370.8" stroke="#1a1a1a" stroke-width="1.3" />
<text x="31.9" y="373.46" font-size="7.6" text-anchor="end" font-weight="normal" fill="#404040" stroke="#404040" stroke-width="0.08">20</text>
<line x1="37.5" y1="479.2" x2="188.7" y2="479.2" stroke="#1a1a1a" stroke-width="1.3" />
<line x1="37.2" y1="479.2" x2="37.2" y2="481.8" stroke="#1a1a1a" stroke-width="1.2" />
<text x="37.2" y="491.9" font-size="7.8" text-anchor="middle" font-weight="normal" fill="#404040" stroke="#404040" stroke-width="0.08">0</text>
<line x1="64.96" y1="479.2" x2="64.96" y2="481.8" stroke="#1a1a1a" stroke-width="1.2" />
<text x="64.96" y="491.9" font-size="7.8" text-anchor="middle" font-weight="normal" fill="#404040" stroke="#404040" stroke-width="0.08">20</text>
<line x1="92.72" y1="479.2" x2="92.72" y2="481.8" stroke="#1a1a1a" stroke-width="1.2" />
<text x="92.72" y="491.9" font-size="7.8" text-anchor="middle" font-weight="normal" fill="#404040" stroke="#404040" stroke-width="0.08">40</text>
<line x1="120.48" y1="479.2" x2="120.48" y2="481.8" stroke="#1a1a1a" stroke-width="1.2" />
<text x="120.48" y="491.9" font-size="7.8" text-anchor="middle" font-weight="normal" fill="#404040" stroke="#404040" stroke-width="0.08">60</text>
<line x1="148.24" y1="479.2" x2="148.24" y2="481.8" stroke="#1a1a1a" stroke-width="1.2" />
<text x="148.24" y="491.9" font-size="7.8" text-anchor="middle" font-weight="normal" fill="#404040" stroke="#404040" stroke-width="0.08">80</text>
<line x1="176" y1="479.2" x2="176" y2="481.8" stroke="#1a1a1a" stroke-width="1.2" />
<text x="176" y="491.9" font-size="7.8" text-anchor="middle" font-weight="normal" fill="#404040" stroke="#404040" stroke-width="0.08">100</text>
<text x="114.6" y="505.4" font-size="9.4" text-anchor="middle" font-weight="bold" fill="#222" textLength="10.4" lengthAdjust="spacingAndGlyphs" >Min</text>
<text transform="translate(16 425.6) rotate(-90) scale(0.9745 1)" font-size="7.8" text-anchor="middle" fill="#222" stroke="#222" stroke-width="0.34">ECAR (mpH/min)</text>
<polyline points="38.75,446.25 47.9,450.5 57.05,453.25 66.2,456.25 75.35,428 84.5,427 93.65,425.5 102.8,423.5 111.95,422.25 121.1,423.75 130.25,421.25 139.4,420 148.55,460 157.7,458 166.85,457.75 176,456.5" fill="none" stroke="#2C426F" stroke-width="1.45" stroke-linejoin="round" />
<circle cx="38.75" cy="446.25" r="1.8" fill="#2C426F"/>
<circle cx="47.9" cy="450.5" r="1.8" fill="#2C426F"/>
<circle cx="57.05" cy="453.25" r="1.8" fill="#2C426F"/>
<circle cx="66.2" cy="456.25" r="1.8" fill="#2C426F"/>
<line x1="75.35" y1="427" x2="75.35" y2="429" stroke="#2C426F" stroke-width="1" />
<line x1="73.15" y1="427" x2="77.55" y2="427" stroke="#2C426F" stroke-width="1" />
<line x1="73.15" y1="429" x2="77.55" y2="429" stroke="#2C426F" stroke-width="1" />
<circle cx="75.35" cy="428" r="1.8" fill="#2C426F"/>
<line x1="84.5" y1="425.5" x2="84.5" y2="428.5" stroke="#2C426F" stroke-width="1" />
<line x1="82.3" y1="425.5" x2="86.7" y2="425.5" stroke="#2C426F" stroke-width="1" />
<line x1="82.3" y1="428.5" x2="86.7" y2="428.5" stroke="#2C426F" stroke-width="1" />
<circle cx="84.5" cy="427" r="1.8" fill="#2C426F"/>
<line x1="93.65" y1="423.5" x2="93.65" y2="427.5" stroke="#2C426F" stroke-width="1" />
<line x1="91.45" y1="423.5" x2="95.85" y2="423.5" stroke="#2C426F" stroke-width="1" />
<line x1="91.45" y1="427.5" x2="95.85" y2="427.5" stroke="#2C426F" stroke-width="1" />
<circle cx="93.65" cy="425.5" r="1.8" fill="#2C426F"/>
<circle cx="102.8" cy="423.5" r="1.8" fill="#2C426F"/>
<line x1="111.95" y1="418.75" x2="111.95" y2="425.75" stroke="#2C426F" stroke-width="1" />
<line x1="109.75" y1="418.75" x2="114.15" y2="418.75" stroke="#2C426F" stroke-width="1" />
<line x1="109.75" y1="425.75" x2="114.15" y2="425.75" stroke="#2C426F" stroke-width="1" />
<circle cx="111.95" cy="422.25" r="1.8" fill="#2C426F"/>
<circle cx="121.1" cy="423.75" r="1.8" fill="#2C426F"/>
<line x1="130.25" y1="417.75" x2="130.25" y2="424.75" stroke="#2C426F" stroke-width="1" />
<line x1="128.05" y1="417.75" x2="132.45" y2="417.75" stroke="#2C426F" stroke-width="1" />
<line x1="128.05" y1="424.75" x2="132.45" y2="424.75" stroke="#2C426F" stroke-width="1" />
<circle cx="130.25" cy="421.25" r="1.8" fill="#2C426F"/>
<line x1="139.4" y1="416" x2="139.4" y2="424" stroke="#2C426F" stroke-width="1" />
<line x1="137.2" y1="416" x2="141.6" y2="416" stroke="#2C426F" stroke-width="1" />
<line x1="137.2" y1="424" x2="141.6" y2="424" stroke="#2C426F" stroke-width="1" />
<circle cx="139.4" cy="420" r="1.8" fill="#2C426F"/>
<line x1="148.55" y1="456.5" x2="148.55" y2="463.5" stroke="#2C426F" stroke-width="1" />
<line x1="146.35" y1="456.5" x2="150.75" y2="456.5" stroke="#2C426F" stroke-width="1" />
<line x1="146.35" y1="463.5" x2="150.75" y2="463.5" stroke="#2C426F" stroke-width="1" />
<circle cx="148.55" cy="460" r="1.8" fill="#2C426F"/>
<line x1="157.7" y1="456" x2="157.7" y2="460" stroke="#2C426F" stroke-width="1" />
<line x1="155.5" y1="456" x2="159.9" y2="456" stroke="#2C426F" stroke-width="1" />
<line x1="155.5" y1="460" x2="159.9" y2="460" stroke="#2C426F" stroke-width="1" />
<circle cx="157.7" cy="458" r="1.8" fill="#2C426F"/>
<line x1="166.85" y1="455.75" x2="166.85" y2="459.75" stroke="#2C426F" stroke-width="1" />
<line x1="164.65" y1="455.75" x2="169.05" y2="455.75" stroke="#2C426F" stroke-width="1" />
<line x1="164.65" y1="459.75" x2="169.05" y2="459.75" stroke="#2C426F" stroke-width="1" />
<circle cx="166.85" cy="457.75" r="1.8" fill="#2C426F"/>
<line x1="176" y1="454.5" x2="176" y2="458.5" stroke="#2C426F" stroke-width="1" />
<line x1="173.8" y1="454.5" x2="178.2" y2="454.5" stroke="#2C426F" stroke-width="1" />
<line x1="173.8" y1="458.5" x2="178.2" y2="458.5" stroke="#2C426F" stroke-width="1" />
<circle cx="176" cy="456.5" r="1.8" fill="#2C426F"/>
<polyline points="38.75,453.75 47.9,458.75 57.05,460.5 66.2,461.25 75.35,427.5 84.5,424.5 93.65,419.5 102.8,412.25 111.95,385 121.1,381.5 130.25,378.5 139.4,375.75 148.55,469 157.7,466.9 166.85,466 176,463.75" fill="none" stroke="#9E1035" stroke-width="1.45" stroke-linejoin="round" />
<circle cx="38.75" cy="453.75" r="1.8" fill="#9E1035"/>
<line x1="47.9" y1="457.25" x2="47.9" y2="460.25" stroke="#9E1035" stroke-width="1" />
<line x1="45.7" y1="457.25" x2="50.1" y2="457.25" stroke="#9E1035" stroke-width="1" />
<line x1="45.7" y1="460.25" x2="50.1" y2="460.25" stroke="#9E1035" stroke-width="1" />
<circle cx="47.9" cy="458.75" r="1.8" fill="#9E1035"/>
<line x1="57.05" y1="459.5" x2="57.05" y2="461.5" stroke="#9E1035" stroke-width="1" />
<line x1="54.85" y1="459.5" x2="59.25" y2="459.5" stroke="#9E1035" stroke-width="1" />
<line x1="54.85" y1="461.5" x2="59.25" y2="461.5" stroke="#9E1035" stroke-width="1" />
<circle cx="57.05" cy="460.5" r="1.8" fill="#9E1035"/>
<line x1="66.2" y1="460.25" x2="66.2" y2="462.25" stroke="#9E1035" stroke-width="1" />
<line x1="64" y1="460.25" x2="68.4" y2="460.25" stroke="#9E1035" stroke-width="1" />
<line x1="64" y1="462.25" x2="68.4" y2="462.25" stroke="#9E1035" stroke-width="1" />
<circle cx="66.2" cy="461.25" r="1.8" fill="#9E1035"/>
<line x1="75.35" y1="425.5" x2="75.35" y2="429.5" stroke="#9E1035" stroke-width="1" />
<line x1="73.15" y1="425.5" x2="77.55" y2="425.5" stroke="#9E1035" stroke-width="1" />
<line x1="73.15" y1="429.5" x2="77.55" y2="429.5" stroke="#9E1035" stroke-width="1" />
<circle cx="75.35" cy="427.5" r="1.8" fill="#9E1035"/>
<line x1="84.5" y1="421.5" x2="84.5" y2="427.5" stroke="#9E1035" stroke-width="1" />
<line x1="82.3" y1="421.5" x2="86.7" y2="421.5" stroke="#9E1035" stroke-width="1" />
<line x1="82.3" y1="427.5" x2="86.7" y2="427.5" stroke="#9E1035" stroke-width="1" />
<circle cx="84.5" cy="424.5" r="1.8" fill="#9E1035"/>
<line x1="93.65" y1="416.5" x2="93.65" y2="422.5" stroke="#9E1035" stroke-width="1" />
<line x1="91.45" y1="416.5" x2="95.85" y2="416.5" stroke="#9E1035" stroke-width="1" />
<line x1="91.45" y1="422.5" x2="95.85" y2="422.5" stroke="#9E1035" stroke-width="1" />
<circle cx="93.65" cy="419.5" r="1.8" fill="#9E1035"/>
<line x1="102.8" y1="409.25" x2="102.8" y2="415.25" stroke="#9E1035" stroke-width="1" />
<line x1="100.6" y1="409.25" x2="105" y2="409.25" stroke="#9E1035" stroke-width="1" />
<line x1="100.6" y1="415.25" x2="105" y2="415.25" stroke="#9E1035" stroke-width="1" />
<circle cx="102.8" cy="412.25" r="1.8" fill="#9E1035"/>
<line x1="111.95" y1="382" x2="111.95" y2="388" stroke="#9E1035" stroke-width="1" />
<line x1="109.75" y1="382" x2="114.15" y2="382" stroke="#9E1035" stroke-width="1" />
<line x1="109.75" y1="388" x2="114.15" y2="388" stroke="#9E1035" stroke-width="1" />
<circle cx="111.95" cy="385" r="1.8" fill="#9E1035"/>
<line x1="121.1" y1="379" x2="121.1" y2="384" stroke="#9E1035" stroke-width="1" />
<line x1="118.9" y1="379" x2="123.3" y2="379" stroke="#9E1035" stroke-width="1" />
<line x1="118.9" y1="384" x2="123.3" y2="384" stroke="#9E1035" stroke-width="1" />
<circle cx="121.1" cy="381.5" r="1.8" fill="#9E1035"/>
<line x1="130.25" y1="376" x2="130.25" y2="381" stroke="#9E1035" stroke-width="1" />
<line x1="128.05" y1="376" x2="132.45" y2="376" stroke="#9E1035" stroke-width="1" />
<line x1="128.05" y1="381" x2="132.45" y2="381" stroke="#9E1035" stroke-width="1" />
<circle cx="130.25" cy="378.5" r="1.8" fill="#9E1035"/>
<line x1="139.4" y1="373.25" x2="139.4" y2="378.25" stroke="#9E1035" stroke-width="1" />
<line x1="137.2" y1="373.25" x2="141.6" y2="373.25" stroke="#9E1035" stroke-width="1" />
<line x1="137.2" y1="378.25" x2="141.6" y2="378.25" stroke="#9E1035" stroke-width="1" />
<circle cx="139.4" cy="375.75" r="1.8" fill="#9E1035"/>
<line x1="148.55" y1="468" x2="148.55" y2="470" stroke="#9E1035" stroke-width="1" />
<line x1="146.35" y1="468" x2="150.75" y2="468" stroke="#9E1035" stroke-width="1" />
<line x1="146.35" y1="470" x2="150.75" y2="470" stroke="#9E1035" stroke-width="1" />
<circle cx="148.55" cy="469" r="1.8" fill="#9E1035"/>
<line x1="157.7" y1="466.4" x2="157.7" y2="467.4" stroke="#9E1035" stroke-width="1" />
<line x1="155.5" y1="466.4" x2="159.9" y2="466.4" stroke="#9E1035" stroke-width="1" />
<line x1="155.5" y1="467.4" x2="159.9" y2="467.4" stroke="#9E1035" stroke-width="1" />
<circle cx="157.7" cy="466.9" r="1.8" fill="#9E1035"/>
<line x1="166.85" y1="465.5" x2="166.85" y2="466.5" stroke="#9E1035" stroke-width="1" />
<line x1="164.65" y1="465.5" x2="169.05" y2="465.5" stroke="#9E1035" stroke-width="1" />
<line x1="164.65" y1="466.5" x2="169.05" y2="466.5" stroke="#9E1035" stroke-width="1" />
<circle cx="166.85" cy="466" r="1.8" fill="#9E1035"/>
<line x1="176" y1="463.25" x2="176" y2="464.25" stroke="#9E1035" stroke-width="1" />
<line x1="173.8" y1="463.25" x2="178.2" y2="463.25" stroke="#9E1035" stroke-width="1" />
<line x1="173.8" y1="464.25" x2="178.2" y2="464.25" stroke="#9E1035" stroke-width="1" />
<circle cx="176" cy="463.75" r="1.8" fill="#9E1035"/>
<line x1="153.3" y1="383" x2="165" y2="383" stroke="#9E1035" stroke-width="1.4" />
<circle cx="159.1" cy="383" r="1.8" fill="#9E1035"/>
<text x="167" y="385.6" font-size="8.8" text-anchor="start" font-weight="normal" fill="#333" textLength="23" lengthAdjust="spacingAndGlyphs"  stroke="#333" stroke-width="0.18">Thorax</text>
<line x1="153.3" y1="395" x2="165" y2="395" stroke="#2C426F" stroke-width="1.4" />
<circle cx="159.1" cy="395" r="1.8" fill="#2C426F"/>
<text x="167" y="397.6" font-size="8.8" text-anchor="start" font-weight="normal" fill="#333" textLength="11.09" lengthAdjust="spacingAndGlyphs"  stroke="#333" stroke-width="0.18">Tail</text>
<rect x="238" y="377" width="17.8" height="102.6" fill="#A8062C" stroke="none" stroke-width="1" />
<rect x="263" y="431.75" width="17.5" height="47.85" fill="#2F4B7E" stroke="none" stroke-width="1" />
<line x1="246.9" y1="375" x2="246.9" y2="377.5" stroke="#222" stroke-width="0.8" />
<line x1="244.9" y1="375" x2="248.9" y2="375" stroke="#222" stroke-width="0.8" />
<line x1="271.75" y1="429.8" x2="271.75" y2="432" stroke="#222" stroke-width="0.8" />
<line x1="269.75" y1="429.8" x2="273.75" y2="429.8" stroke="#222" stroke-width="0.8" />
<line x1="234.5" y1="480.1" x2="234.5" y2="362.9" stroke="#1a1a1a" stroke-width="1.3" />
<line x1="231.9" y1="479.6" x2="234.5" y2="479.6" stroke="#1a1a1a" stroke-width="1.3" />
<text x="228.9" y="482.26" font-size="7.6" text-anchor="end" font-weight="normal" fill="#404040" stroke="#404040" stroke-width="0.08">0</text>
<line x1="231.9" y1="441.7" x2="234.5" y2="441.7" stroke="#1a1a1a" stroke-width="1.3" />
<text x="228.9" y="444.36" font-size="7.6" text-anchor="end" font-weight="normal" fill="#404040" stroke="#404040" stroke-width="0.08">5</text>
<line x1="231.9" y1="403.8" x2="234.5" y2="403.8" stroke="#1a1a1a" stroke-width="1.3" />
<text x="228.9" y="406.46" font-size="7.6" text-anchor="end" font-weight="normal" fill="#404040" stroke="#404040" stroke-width="0.08">10</text>
<line x1="231.9" y1="365.9" x2="234.5" y2="365.9" stroke="#1a1a1a" stroke-width="1.3" />
<text x="228.9" y="368.56" font-size="7.6" text-anchor="end" font-weight="normal" fill="#404040" stroke="#404040" stroke-width="0.08">15</text>
<line x1="231.25" y1="479.6" x2="287" y2="479.6" stroke="#1a1a1a" stroke-width="1.3" />
<text x="247" y="489.6" font-size="8.8" text-anchor="middle" font-weight="normal" fill="#333" textLength="23" lengthAdjust="spacingAndGlyphs"  stroke="#333" stroke-width="0.18">Thorax</text>
<text x="272" y="489.6" font-size="8.8" text-anchor="middle" font-weight="normal" fill="#333" textLength="11.09" lengthAdjust="spacingAndGlyphs"  stroke="#333" stroke-width="0.18">Tail</text>
<text x="272" y="430.4" font-size="9.5" text-anchor="middle" font-weight="normal" fill="#222" stroke="#222" stroke-width="0.3">***</text>
<text transform="translate(212.3 421) rotate(-90) scale(0.8771 1)" font-size="7.8" text-anchor="middle" fill="#222" stroke="#222" stroke-width="0.34">Glycolytic capacity ECAR (mpH/min)</text>
<rect x="357.5" y="398.75" width="18" height="81.25" fill="#A8062C" stroke="none" stroke-width="1" />
<rect x="383" y="422.5" width="17.5" height="57.5" fill="#2F4B7E" stroke="none" stroke-width="1" />
<line x1="366.5" y1="385.8" x2="366.5" y2="399" stroke="#222" stroke-width="0.9" />
<line x1="364" y1="385.8" x2="369" y2="385.8" stroke="#222" stroke-width="0.9" />
<line x1="391.75" y1="412" x2="391.75" y2="422.8" stroke="#222" stroke-width="0.9" />
<line x1="389.25" y1="412" x2="394.25" y2="412" stroke="#222" stroke-width="0.9" />
<line x1="353.5" y1="480.5" x2="353.5" y2="363" stroke="#1a1a1a" stroke-width="1.3" />
<line x1="350.9" y1="480" x2="353.5" y2="480" stroke="#1a1a1a" stroke-width="1.3" />
<text x="347.9" y="482.66" font-size="7.6" text-anchor="end" font-weight="normal" fill="#404040" stroke="#404040" stroke-width="0.08">0</text>
<line x1="350.9" y1="442" x2="353.5" y2="442" stroke="#1a1a1a" stroke-width="1.3" />
<text x="347.9" y="444.66" font-size="7.6" text-anchor="end" font-weight="normal" fill="#404040" stroke="#404040" stroke-width="0.08">5</text>
<line x1="350.9" y1="404" x2="353.5" y2="404" stroke="#1a1a1a" stroke-width="1.3" />
<text x="347.9" y="406.66" font-size="7.6" text-anchor="end" font-weight="normal" fill="#404040" stroke="#404040" stroke-width="0.08">10</text>
<line x1="350.9" y1="366" x2="353.5" y2="366" stroke="#1a1a1a" stroke-width="1.3" />
<text x="347.9" y="368.66" font-size="7.6" text-anchor="end" font-weight="normal" fill="#404040" stroke="#404040" stroke-width="0.08">15</text>
<line x1="351.25" y1="480" x2="406.25" y2="480" stroke="#1a1a1a" stroke-width="1.3" />
<text x="366.75" y="490.1" font-size="8.8" text-anchor="middle" font-weight="normal" fill="#333" textLength="23" lengthAdjust="spacingAndGlyphs"  stroke="#333" stroke-width="0.18">Thorax</text>
<text x="391.75" y="490.1" font-size="8.8" text-anchor="middle" font-weight="normal" fill="#333" textLength="11.09" lengthAdjust="spacingAndGlyphs"  stroke="#333" stroke-width="0.18">Tail</text>
<text x="392" y="407.4" font-size="9.5" text-anchor="middle" font-weight="normal" fill="#222" stroke="#222" stroke-width="0.3">***</text>
<text transform="translate(333.4 421.9) rotate(-90) scale(0.8824 1)" font-size="7.8" text-anchor="middle" fill="#222" stroke="#222" stroke-width="0.34">mU G6PD / 1*10<tspan dy="-2.6" font-size="5">6</tspan><tspan dy="2.6"> leukemic cells</tspan></text>
<rect x="260" y="604.25" width="9.5" height="54.5" fill="#A8062C" stroke="none" stroke-width="1" />
<line x1="264.75" y1="600.75" x2="264.75" y2="604.75" stroke="#222" stroke-width="0.9" />
<line x1="262.25" y1="600.75" x2="267.25" y2="600.75" stroke="#222" stroke-width="0.9" />
<rect x="273" y="563" width="9.5" height="95.75" fill="#2F4B7E" stroke="none" stroke-width="1" />
<line x1="277.75" y1="558.75" x2="277.75" y2="563.5" stroke="#222" stroke-width="0.9" />
<line x1="275.25" y1="558.75" x2="280.25" y2="558.75" stroke="#222" stroke-width="0.9" />
<rect x="298.25" y="576.25" width="9.75" height="82.5" fill="#A8062C" stroke="none" stroke-width="1" />
<line x1="303.12" y1="573.75" x2="303.12" y2="576.75" stroke="#222" stroke-width="0.9" />
<line x1="300.62" y1="573.75" x2="305.62" y2="573.75" stroke="#222" stroke-width="0.9" />
<rect x="311.75" y="599.5" width="9.5" height="59.25" fill="#2F4B7E" stroke="none" stroke-width="1" />
<line x1="316.5" y1="594.5" x2="316.5" y2="600" stroke="#222" stroke-width="0.9" />
<line x1="314" y1="594.5" x2="319" y2="594.5" stroke="#222" stroke-width="0.9" />
<rect x="337" y="632.5" width="9.75" height="26.25" fill="#A8062C" stroke="none" stroke-width="1" />
<line x1="338.5" y1="632.3" x2="345.25" y2="632.3" stroke="#333" stroke-width="0.8" />
<rect x="350" y="643" width="9.5" height="15.75" fill="#2F4B7E" stroke="none" stroke-width="1" />
<line x1="351.5" y1="642.8" x2="358" y2="642.8" stroke="#333" stroke-width="0.8" />
<rect x="375.5" y="632" width="9.5" height="26.75" fill="#A8062C" stroke="none" stroke-width="1" />
<line x1="377" y1="631.8" x2="383.5" y2="631.8" stroke="#333" stroke-width="0.8" />
<rect x="388.25" y="641" width="9.75" height="17.75" fill="#2F4B7E" stroke="none" stroke-width="1" />
<line x1="389.75" y1="640.8" x2="396.5" y2="640.8" stroke="#333" stroke-width="0.8" />
<line x1="257.5" y1="659.4" x2="257.5" y2="541.42" stroke="#1a1a1a" stroke-width="1.3" />
<line x1="254.9" y1="658.9" x2="257.5" y2="658.9" stroke="#1a1a1a" stroke-width="1.3" />
<text x="251.9" y="661.56" font-size="7.6" text-anchor="end" font-weight="normal" fill="#404040" stroke="#404040" stroke-width="0.08">0</text>
<line x1="254.9" y1="620.74" x2="257.5" y2="620.74" stroke="#1a1a1a" stroke-width="1.3" />
<text x="251.9" y="623.4" font-size="7.6" text-anchor="end" font-weight="normal" fill="#404040" stroke="#404040" stroke-width="0.08">20</text>
<line x1="254.9" y1="582.58" x2="257.5" y2="582.58" stroke="#1a1a1a" stroke-width="1.3" />
<text x="251.9" y="585.24" font-size="7.6" text-anchor="end" font-weight="normal" fill="#404040" stroke="#404040" stroke-width="0.08">40</text>
<line x1="254.9" y1="544.42" x2="257.5" y2="544.42" stroke="#1a1a1a" stroke-width="1.3" />
<text x="251.9" y="547.08" font-size="7.6" text-anchor="end" font-weight="normal" fill="#404040" stroke="#404040" stroke-width="0.08">60</text>
<line x1="257.5" y1="658.75" x2="413.3" y2="658.75" stroke="#1a1a1a" stroke-width="1.3" />
<polyline points="260.5,556.5 260.5,553 280.5,553 280.5,556.5" fill="none" stroke="#222" stroke-width="0.9" stroke-linejoin="round" />
<text x="270.5" y="554.4" font-size="10.4" text-anchor="middle" font-weight="normal" fill="#222" textLength="18.5" lengthAdjust="spacingAndGlyphs" stroke="#222" stroke-width="0.45">****</text>
<polyline points="298.75,569.75 298.75,566.25 318.75,566.25 318.75,569.75" fill="none" stroke="#222" stroke-width="0.9" stroke-linejoin="round" />
<text x="308.75" y="567.65" font-size="10.4" text-anchor="middle" font-weight="normal" fill="#222" textLength="18.5" lengthAdjust="spacingAndGlyphs" stroke="#222" stroke-width="0.45">****</text>
<polyline points="338,628.5 338,625 358,625 358,628.5" fill="none" stroke="#222" stroke-width="0.9" stroke-linejoin="round" />
<text x="348" y="626.4" font-size="10.4" text-anchor="middle" font-weight="normal" fill="#222" textLength="18.5" lengthAdjust="spacingAndGlyphs" stroke="#222" stroke-width="0.45">****</text>
<polyline points="376.25,628.5 376.25,625 396.75,625 396.75,628.5" fill="none" stroke="#222" stroke-width="0.9" stroke-linejoin="round" />
<text x="386.5" y="626.4" font-size="10.4" text-anchor="middle" font-weight="normal" fill="#222" textLength="18.5" lengthAdjust="spacingAndGlyphs" stroke="#222" stroke-width="0.45">****</text>
<text x="271.5" y="668.9" font-size="8.6" text-anchor="middle" font-weight="normal" fill="#333" textLength="10.32" lengthAdjust="spacingAndGlyphs"  stroke="#333" stroke-width="0.18">G0</text>
<text x="308.8" y="668.9" font-size="8.6" text-anchor="middle" font-weight="normal" fill="#333" textLength="10.32" lengthAdjust="spacingAndGlyphs"  stroke="#333" stroke-width="0.18">G1</text>
<text x="348.2" y="668.9" font-size="8.6" text-anchor="middle" font-weight="normal" fill="#333" textLength="5.16" lengthAdjust="spacingAndGlyphs"  stroke="#333" stroke-width="0.18">S</text>
<text x="386.4" y="668.9" font-size="8.6" text-anchor="middle" font-weight="normal" fill="#333" textLength="18.92" lengthAdjust="spacingAndGlyphs"  stroke="#333" stroke-width="0.18">G2/M</text>
<text transform="translate(235.2 599.4) rotate(-90) scale(0.8781 1)" font-size="7.8" text-anchor="middle" fill="#222" stroke="#222" stroke-width="0.34">% of hCD45+ / hCD7+ cells</text>
<rect x="355" y="541.25" width="7.5" height="8" fill="#A8062C" stroke="none" stroke-width="1" />
<text x="367.5" y="548.2" font-size="8.8" text-anchor="start" font-weight="normal" fill="#333" textLength="23" lengthAdjust="spacingAndGlyphs"  stroke="#333" stroke-width="0.18">Thorax</text>
<rect x="355" y="554.5" width="7.5" height="8" fill="#2F4B7E" stroke="none" stroke-width="1" />
<text x="367.5" y="561.4" font-size="8.8" text-anchor="start" font-weight="normal" fill="#333" textLength="11.09" lengthAdjust="spacingAndGlyphs"  stroke="#333" stroke-width="0.18">Tail</text>
<rect x="446.6" y="535.6" width="59.7" height="62.4" fill="white" stroke="#666" stroke-width="0.6" />
<line x1="448.1" y1="598.3" x2="448.1" y2="599.6" stroke="#555" stroke-width="0.45" />
<line x1="451.51" y1="598.3" x2="451.51" y2="599" stroke="#555" stroke-width="0.45" />
<line x1="453.51" y1="598.3" x2="453.51" y2="599" stroke="#555" stroke-width="0.45" />
<line x1="454.93" y1="598.3" x2="454.93" y2="599" stroke="#555" stroke-width="0.45" />
<line x1="456.03" y1="598.3" x2="456.03" y2="599" stroke="#555" stroke-width="0.45" />
<line x1="456.92" y1="598.3" x2="456.92" y2="599" stroke="#555" stroke-width="0.45" />
<line x1="457.68" y1="598.3" x2="457.68" y2="599" stroke="#555" stroke-width="0.45" />
<line x1="458.34" y1="598.3" x2="458.34" y2="599" stroke="#555" stroke-width="0.45" />
<line x1="458.92" y1="598.3" x2="458.92" y2="599" stroke="#555" stroke-width="0.45" />
<line x1="459.44" y1="598.3" x2="459.44" y2="599.6" stroke="#555" stroke-width="0.45" />
<line x1="462.85" y1="598.3" x2="462.85" y2="599" stroke="#555" stroke-width="0.45" />
<line x1="464.85" y1="598.3" x2="464.85" y2="599" stroke="#555" stroke-width="0.45" />
<line x1="466.27" y1="598.3" x2="466.27" y2="599" stroke="#555" stroke-width="0.45" />
<line x1="467.37" y1="598.3" x2="467.37" y2="599" stroke="#555" stroke-width="0.45" />
<line x1="468.26" y1="598.3" x2="468.26" y2="599" stroke="#555" stroke-width="0.45" />
<line x1="469.02" y1="598.3" x2="469.02" y2="599" stroke="#555" stroke-width="0.45" />
<line x1="469.68" y1="598.3" x2="469.68" y2="599" stroke="#555" stroke-width="0.45" />
<line x1="470.26" y1="598.3" x2="470.26" y2="599" stroke="#555" stroke-width="0.45" />
<line x1="470.78" y1="598.3" x2="470.78" y2="599.6" stroke="#555" stroke-width="0.45" />
<line x1="474.19" y1="598.3" x2="474.19" y2="599" stroke="#555" stroke-width="0.45" />
<line x1="476.19" y1="598.3" x2="476.19" y2="599" stroke="#555" stroke-width="0.45" />
<line x1="477.61" y1="598.3" x2="477.61" y2="599" stroke="#555" stroke-width="0.45" />
<line x1="478.71" y1="598.3" x2="478.71" y2="599" stroke="#555" stroke-width="0.45" />
<line x1="479.6" y1="598.3" x2="479.6" y2="599" stroke="#555" stroke-width="0.45" />
<line x1="480.36" y1="598.3" x2="480.36" y2="599" stroke="#555" stroke-width="0.45" />
<line x1="481.02" y1="598.3" x2="481.02" y2="599" stroke="#555" stroke-width="0.45" />
<line x1="481.6" y1="598.3" x2="481.6" y2="599" stroke="#555" stroke-width="0.45" />
<line x1="482.12" y1="598.3" x2="482.12" y2="599.6" stroke="#555" stroke-width="0.45" />
<line x1="485.53" y1="598.3" x2="485.53" y2="599" stroke="#555" stroke-width="0.45" />
<line x1="487.53" y1="598.3" x2="487.53" y2="599" stroke="#555" stroke-width="0.45" />
<line x1="488.95" y1="598.3" x2="488.95" y2="599" stroke="#555" stroke-width="0.45" />
<line x1="490.05" y1="598.3" x2="490.05" y2="599" stroke="#555" stroke-width="0.45" />
<line x1="490.94" y1="598.3" x2="490.94" y2="599" stroke="#555" stroke-width="0.45" />
<line x1="491.7" y1="598.3" x2="491.7" y2="599" stroke="#555" stroke-width="0.45" />
<line x1="492.36" y1="598.3" x2="492.36" y2="599" stroke="#555" stroke-width="0.45" />
<line x1="492.94" y1="598.3" x2="492.94" y2="599" stroke="#555" stroke-width="0.45" />
<line x1="493.46" y1="598.3" x2="493.46" y2="599.6" stroke="#555" stroke-width="0.45" />
<line x1="496.87" y1="598.3" x2="496.87" y2="599" stroke="#555" stroke-width="0.45" />
<line x1="498.87" y1="598.3" x2="498.87" y2="599" stroke="#555" stroke-width="0.45" />
<line x1="500.29" y1="598.3" x2="500.29" y2="599" stroke="#555" stroke-width="0.45" />
<line x1="501.39" y1="598.3" x2="501.39" y2="599" stroke="#555" stroke-width="0.45" />
<line x1="502.28" y1="598.3" x2="502.28" y2="599" stroke="#555" stroke-width="0.45" />
<line x1="503.04" y1="598.3" x2="503.04" y2="599" stroke="#555" stroke-width="0.45" />
<line x1="503.7" y1="598.3" x2="503.7" y2="599" stroke="#555" stroke-width="0.45" />
<line x1="504.28" y1="598.3" x2="504.28" y2="599" stroke="#555" stroke-width="0.45" />
<line x1="446.6" y1="548.08" x2="445.6" y2="548.08" stroke="#555" stroke-width="0.4" />
<line x1="446.6" y1="560.56" x2="445.6" y2="560.56" stroke="#555" stroke-width="0.4" />
<line x1="446.6" y1="573.04" x2="445.6" y2="573.04" stroke="#555" stroke-width="0.4" />
<line x1="446.6" y1="585.52" x2="445.6" y2="585.52" stroke="#555" stroke-width="0.4" />
<circle cx="484.3" cy="565.5" r="0.3" fill="#c4c4c4"/>
<circle cx="500.67" cy="562.82" r="0.3" fill="#c4c4c4"/>
<circle cx="486.22" cy="566.28" r="0.3" fill="#c4c4c4"/>
<circle cx="475.01" cy="564.14" r="0.3" fill="#c4c4c4"/>
<circle cx="490.46" cy="572.12" r="0.3" fill="#c4c4c4"/>
<circle cx="471.87" cy="558.22" r="0.3" fill="#c4c4c4"/>
<circle cx="471.75" cy="572.59" r="0.3" fill="#c4c4c4"/>
<circle cx="492.66" cy="550.79" r="0.3" fill="#c4c4c4"/>
<circle cx="502.68" cy="577" r="0.3" fill="#c4c4c4"/>
<circle cx="491.29" cy="567.08" r="0.3" fill="#c4c4c4"/>
<circle cx="474.07" cy="550.03" r="0.3" fill="#c4c4c4"/>
<circle cx="486.93" cy="551.29" r="0.3" fill="#c4c4c4"/>
<circle cx="475.2" cy="556.47" r="0.3" fill="#c4c4c4"/>
<circle cx="469.64" cy="562.78" r="0.3" fill="#c4c4c4"/>
<circle cx="483.89" cy="573.52" r="0.3" fill="#c4c4c4"/>
<circle cx="486.61" cy="567.78" r="0.3" fill="#c4c4c4"/>
<circle cx="485.94" cy="568.41" r="0.3" fill="#c4c4c4"/>
<circle cx="484.47" cy="557.5" r="0.3" fill="#c4c4c4"/>
<circle cx="503.22" cy="577.88" r="0.3" fill="#c4c4c4"/>
<circle cx="497.76" cy="569.7" r="0.3" fill="#c4c4c4"/>
<circle cx="479.54" cy="556.12" r="0.3" fill="#c4c4c4"/>
<circle cx="478.63" cy="551.59" r="0.3" fill="#c4c4c4"/>
<circle cx="495.19" cy="560.97" r="0.3" fill="#c4c4c4"/>
<circle cx="497.98" cy="560.58" r="0.3" fill="#c4c4c4"/>
<circle cx="501.84" cy="573.66" r="0.3" fill="#c4c4c4"/>
<circle cx="468.62" cy="555.56" r="0.3" fill="#c4c4c4"/>
<circle cx="500.19" cy="562.95" r="0.3" fill="#c4c4c4"/>
<circle cx="502.62" cy="560.89" r="0.3" fill="#c4c4c4"/>
<circle cx="471.13" cy="567.48" r="0.3" fill="#c4c4c4"/>
<circle cx="495.61" cy="557.26" r="0.3" fill="#c4c4c4"/>
<circle cx="471.62" cy="559.05" r="0.3" fill="#c4c4c4"/>
<circle cx="502.05" cy="571.13" r="0.3" fill="#c4c4c4"/>
<circle cx="472.69" cy="556.6" r="0.3" fill="#c4c4c4"/>
<circle cx="472.11" cy="551.3" r="0.3" fill="#c4c4c4"/>
<circle cx="496.26" cy="554.65" r="0.3" fill="#c4c4c4"/>
<circle cx="488.01" cy="562.31" r="0.3" fill="#c4c4c4"/>
<circle cx="475.22" cy="570.39" r="0.3" fill="#c4c4c4"/>
<circle cx="473.14" cy="567.88" r="0.3" fill="#c4c4c4"/>
<circle cx="472.64" cy="561.55" r="0.3" fill="#c4c4c4"/>
<circle cx="475.99" cy="557.26" r="0.3" fill="#c4c4c4"/>
<circle cx="502.29" cy="572.42" r="0.3" fill="#c4c4c4"/>
<circle cx="479.15" cy="574.73" r="0.3" fill="#c4c4c4"/>
<circle cx="475.91" cy="560.8" r="0.3" fill="#c4c4c4"/>
<circle cx="498.25" cy="567.83" r="0.3" fill="#c4c4c4"/>
<circle cx="472.08" cy="577.7" r="0.3" fill="#c4c4c4"/>
<circle cx="476" cy="556.94" r="0.3" fill="#c4c4c4"/>
<circle cx="495.41" cy="558.94" r="0.3" fill="#c4c4c4"/>
<circle cx="478.88" cy="551.68" r="0.3" fill="#c4c4c4"/>
<circle cx="471.73" cy="566.15" r="0.3" fill="#c4c4c4"/>
<circle cx="477.03" cy="566.68" r="0.3" fill="#c4c4c4"/>
<circle cx="481.5" cy="562.47" r="0.3" fill="#c4c4c4"/>
<circle cx="501.88" cy="563.34" r="0.3" fill="#c4c4c4"/>
<circle cx="488.54" cy="574.21" r="0.3" fill="#c4c4c4"/>
<circle cx="474.94" cy="553.98" r="0.3" fill="#c4c4c4"/>
<circle cx="500.12" cy="572.83" r="0.3" fill="#c4c4c4"/>
<circle cx="477.26" cy="554.99" r="0.3" fill="#c4c4c4"/>
<circle cx="494.26" cy="576.31" r="0.3" fill="#c4c4c4"/>
<circle cx="475.42" cy="576.58" r="0.3" fill="#c4c4c4"/>
<circle cx="499.21" cy="566.74" r="0.3" fill="#c4c4c4"/>
<circle cx="483.22" cy="552.55" r="0.3" fill="#c4c4c4"/>
<circle cx="469.94" cy="576.94" r="0.3" fill="#c4c4c4"/>
<circle cx="476.87" cy="569.61" r="0.3" fill="#c4c4c4"/>
<circle cx="477.52" cy="572.99" r="0.3" fill="#c4c4c4"/>
<circle cx="489.3" cy="557.93" r="0.3" fill="#c4c4c4"/>
<circle cx="474.69" cy="570.06" r="0.3" fill="#c4c4c4"/>
<circle cx="470.99" cy="556.09" r="0.3" fill="#c4c4c4"/>
<circle cx="488.01" cy="573.81" r="0.3" fill="#c4c4c4"/>
<circle cx="489.92" cy="557.56" r="0.3" fill="#c4c4c4"/>
<circle cx="500.43" cy="555.39" r="0.3" fill="#c4c4c4"/>
<circle cx="469.18" cy="557.25" r="0.3" fill="#c4c4c4"/>
<circle cx="484.07" cy="551.32" r="0.3" fill="#c4c4c4"/>
<circle cx="474.72" cy="560.07" r="0.3" fill="#c4c4c4"/>
<circle cx="488.45" cy="553.34" r="0.3" fill="#c4c4c4"/>
<circle cx="481.17" cy="574.9" r="0.3" fill="#c4c4c4"/>
<circle cx="502.62" cy="568.26" r="0.3" fill="#c4c4c4"/>
<circle cx="492.59" cy="566.2" r="0.3" fill="#c4c4c4"/>
<circle cx="473.47" cy="550.6" r="0.3" fill="#c4c4c4"/>
<circle cx="469.22" cy="575.45" r="0.3" fill="#c4c4c4"/>
<circle cx="492.92" cy="576.94" r="0.3" fill="#c4c4c4"/>
<circle cx="469.34" cy="567.67" r="0.3" fill="#c4c4c4"/>
<defs><radialGradient id="fb11"><stop offset="0" stop-color="#222"/><stop offset="0.6" stop-color="#555"/><stop offset="1" stop-color="#999" stop-opacity="0.6"/></radialGradient></defs>
<ellipse cx="467.6" cy="575" rx="4.4" ry="13" fill="none" stroke="#bbb" stroke-width="0.5"/>
<ellipse cx="467.6" cy="575" rx="3.4" ry="11" fill="url(#fb11)" stroke="#333" stroke-width="0.8"/>
<path d="M470.6 570 L 480.6 562 Q 485.6 558 485.6 562 Q 484.6 565 480.6 567 L 470.6 576" fill="none" stroke="#555" stroke-width="1.0"/>
<path d="M471.6 568 L 479.6 563 Q 482.6 560 482.6 563" fill="none" stroke="#888" stroke-width="0.6"/>
<path d="M481.6 570 Q 487.6 568 489.6 572 Q 490.6 575 486.6 574" fill="none" stroke="#999" stroke-width="0.5"/>
<ellipse cx="483.6" cy="553.6" rx="2.2" ry="2.8" fill="none" stroke="#aaa" stroke-width="0.5"/>
<circle cx="499.28" cy="566.12" r="0.45" fill="#d8d8d8"/>
<circle cx="497.69" cy="569.99" r="0.45" fill="#d8d8d8"/>
<circle cx="495.33" cy="563.46" r="0.45" fill="#d8d8d8"/>
<circle cx="501.75" cy="568.56" r="0.45" fill="#d8d8d8"/>
<circle cx="501.75" cy="565.73" r="0.45" fill="#d8d8d8"/>
<circle cx="502.29" cy="568.78" r="0.45" fill="#d8d8d8"/>
<circle cx="498.01" cy="565.47" r="0.45" fill="#d8d8d8"/>
<circle cx="503.34" cy="568.14" r="0.45" fill="#d8d8d8"/>
<circle cx="498.65" cy="566.98" r="0.45" fill="#d8d8d8"/>
<circle cx="502.98" cy="563.85" r="0.45" fill="#d8d8d8"/>
<circle cx="500.66" cy="561.11" r="0.45" fill="#d8d8d8"/>
<circle cx="500.25" cy="564.37" r="0.45" fill="#d8d8d8"/>
<circle cx="495.38" cy="564.81" r="0.45" fill="#d8d8d8"/>
<circle cx="504.24" cy="568.27" r="0.45" fill="#d8d8d8"/>
<circle cx="501.66" cy="561.19" r="0.45" fill="#d8d8d8"/>
<circle cx="501.73" cy="563.97" r="0.45" fill="#d8d8d8"/>
<circle cx="498.87" cy="567.67" r="0.45" fill="#d8d8d8"/>
<circle cx="495.41" cy="566.4" r="0.45" fill="#d8d8d8"/>
<circle cx="494.89" cy="564.26" r="0.45" fill="#d8d8d8"/>
<circle cx="499.27" cy="558.92" r="0.45" fill="#d8d8d8"/>
<circle cx="501.37" cy="562.76" r="0.45" fill="#d8d8d8"/>
<circle cx="500.56" cy="568.85" r="0.45" fill="#d8d8d8"/>
<circle cx="497.08" cy="555.76" r="0.45" fill="#d8d8d8"/>
<circle cx="497.52" cy="565.37" r="0.45" fill="#d8d8d8"/>
<circle cx="496.56" cy="558.04" r="0.45" fill="#d8d8d8"/>
<circle cx="503.39" cy="565.1" r="0.45" fill="#d8d8d8"/>
<circle cx="498.89" cy="568.44" r="0.45" fill="#d8d8d8"/>
<circle cx="497.77" cy="565.19" r="0.45" fill="#d8d8d8"/>
<circle cx="496.53" cy="561.8" r="0.45" fill="#d8d8d8"/>
<circle cx="502.42" cy="568.76" r="0.45" fill="#d8d8d8"/>
<circle cx="503.14" cy="561.14" r="0.45" fill="#d8d8d8"/>
<circle cx="500.26" cy="560.16" r="0.45" fill="#d8d8d8"/>
<circle cx="495.92" cy="562.75" r="0.45" fill="#d8d8d8"/>
<circle cx="502.72" cy="567.82" r="0.45" fill="#d8d8d8"/>
<circle cx="501.5" cy="569.28" r="0.45" fill="#d8d8d8"/>
<circle cx="497.28" cy="558.04" r="0.45" fill="#d8d8d8"/>
<circle cx="498.97" cy="559.56" r="0.45" fill="#d8d8d8"/>
<circle cx="496.68" cy="561.56" r="0.45" fill="#d8d8d8"/>
<circle cx="500.67" cy="562.71" r="0.45" fill="#d8d8d8"/>
<circle cx="497.66" cy="567.68" r="0.45" fill="#d8d8d8"/>
<path d="M459.6 549.6 H 493.3 V 576 H 459.6 Z M 459.6 591 H 472 M 472 549.6 V 591 M 479.4 549.6 H 479.4 V 576 H 479.4" fill="none" stroke="#555" stroke-width="0.65"/>
<line x1="459.6" y1="549.6" x2="459.6" y2="591" stroke="#555" stroke-width="0.65" />
<text x="448.4" y="542.2" font-size="7.4" text-anchor="start" font-weight="normal" fill="#A83058" textLength="20.27" lengthAdjust="spacingAndGlyphs"  stroke="#A83058" stroke-width="0.18">Thorax</text>
<text x="449.9" y="547.9" font-size="5.6" text-anchor="start" font-weight="normal" fill="#A83058" stroke="#A83058" stroke-width="0.18">G1: 55%</text>
<text x="477.1" y="547.9" font-size="5.6" text-anchor="start" font-weight="normal" fill="#A83058" stroke="#A83058" stroke-width="0.18">G2/M: 12%</text>
<text x="472.9" y="582.2" font-size="5.6" text-anchor="start" font-weight="normal" fill="#A83058" stroke="#A83058" stroke-width="0.18">S: 10%</text>
<text x="452.2" y="595.8" font-size="5.6" text-anchor="start" font-weight="normal" fill="#A83058" stroke="#A83058" stroke-width="0.18">G0: 23%</text>
<rect x="446.6" y="608.8" width="59.7" height="62.4" fill="white" stroke="#666" stroke-width="0.6" />
<line x1="448.1" y1="671.5" x2="448.1" y2="672.8" stroke="#555" stroke-width="0.45" />
<line x1="451.51" y1="671.5" x2="451.51" y2="672.2" stroke="#555" stroke-width="0.45" />
<line x1="453.51" y1="671.5" x2="453.51" y2="672.2" stroke="#555" stroke-width="0.45" />
<line x1="454.93" y1="671.5" x2="454.93" y2="672.2" stroke="#555" stroke-width="0.45" />
<line x1="456.03" y1="671.5" x2="456.03" y2="672.2" stroke="#555" stroke-width="0.45" />
<line x1="456.92" y1="671.5" x2="456.92" y2="672.2" stroke="#555" stroke-width="0.45" />
<line x1="457.68" y1="671.5" x2="457.68" y2="672.2" stroke="#555" stroke-width="0.45" />
<line x1="458.34" y1="671.5" x2="458.34" y2="672.2" stroke="#555" stroke-width="0.45" />
<line x1="458.92" y1="671.5" x2="458.92" y2="672.2" stroke="#555" stroke-width="0.45" />
<line x1="459.44" y1="671.5" x2="459.44" y2="672.8" stroke="#555" stroke-width="0.45" />
<line x1="462.85" y1="671.5" x2="462.85" y2="672.2" stroke="#555" stroke-width="0.45" />
<line x1="464.85" y1="671.5" x2="464.85" y2="672.2" stroke="#555" stroke-width="0.45" />
<line x1="466.27" y1="671.5" x2="466.27" y2="672.2" stroke="#555" stroke-width="0.45" />
<line x1="467.37" y1="671.5" x2="467.37" y2="672.2" stroke="#555" stroke-width="0.45" />
<line x1="468.26" y1="671.5" x2="468.26" y2="672.2" stroke="#555" stroke-width="0.45" />
<line x1="469.02" y1="671.5" x2="469.02" y2="672.2" stroke="#555" stroke-width="0.45" />
<line x1="469.68" y1="671.5" x2="469.68" y2="672.2" stroke="#555" stroke-width="0.45" />
<line x1="470.26" y1="671.5" x2="470.26" y2="672.2" stroke="#555" stroke-width="0.45" />
<line x1="470.78" y1="671.5" x2="470.78" y2="672.8" stroke="#555" stroke-width="0.45" />
<line x1="474.19" y1="671.5" x2="474.19" y2="672.2" stroke="#555" stroke-width="0.45" />
<line x1="476.19" y1="671.5" x2="476.19" y2="672.2" stroke="#555" stroke-width="0.45" />
<line x1="477.61" y1="671.5" x2="477.61" y2="672.2" stroke="#555" stroke-width="0.45" />
<line x1="478.71" y1="671.5" x2="478.71" y2="672.2" stroke="#555" stroke-width="0.45" />
<line x1="479.6" y1="671.5" x2="479.6" y2="672.2" stroke="#555" stroke-width="0.45" />
<line x1="480.36" y1="671.5" x2="480.36" y2="672.2" stroke="#555" stroke-width="0.45" />
<line x1="481.02" y1="671.5" x2="481.02" y2="672.2" stroke="#555" stroke-width="0.45" />
<line x1="481.6" y1="671.5" x2="481.6" y2="672.2" stroke="#555" stroke-width="0.45" />
<line x1="482.12" y1="671.5" x2="482.12" y2="672.8" stroke="#555" stroke-width="0.45" />
<line x1="485.53" y1="671.5" x2="485.53" y2="672.2" stroke="#555" stroke-width="0.45" />
<line x1="487.53" y1="671.5" x2="487.53" y2="672.2" stroke="#555" stroke-width="0.45" />
<line x1="488.95" y1="671.5" x2="488.95" y2="672.2" stroke="#555" stroke-width="0.45" />
<line x1="490.05" y1="671.5" x2="490.05" y2="672.2" stroke="#555" stroke-width="0.45" />
<line x1="490.94" y1="671.5" x2="490.94" y2="672.2" stroke="#555" stroke-width="0.45" />
<line x1="491.7" y1="671.5" x2="491.7" y2="672.2" stroke="#555" stroke-width="0.45" />
<line x1="492.36" y1="671.5" x2="492.36" y2="672.2" stroke="#555" stroke-width="0.45" />
<line x1="492.94" y1="671.5" x2="492.94" y2="672.2" stroke="#555" stroke-width="0.45" />
<line x1="493.46" y1="671.5" x2="493.46" y2="672.8" stroke="#555" stroke-width="0.45" />
<line x1="496.87" y1="671.5" x2="496.87" y2="672.2" stroke="#555" stroke-width="0.45" />
<line x1="498.87" y1="671.5" x2="498.87" y2="672.2" stroke="#555" stroke-width="0.45" />
<line x1="500.29" y1="671.5" x2="500.29" y2="672.2" stroke="#555" stroke-width="0.45" />
<line x1="501.39" y1="671.5" x2="501.39" y2="672.2" stroke="#555" stroke-width="0.45" />
<line x1="502.28" y1="671.5" x2="502.28" y2="672.2" stroke="#555" stroke-width="0.45" />
<line x1="503.04" y1="671.5" x2="503.04" y2="672.2" stroke="#555" stroke-width="0.45" />
<line x1="503.7" y1="671.5" x2="503.7" y2="672.2" stroke="#555" stroke-width="0.45" />
<line x1="504.28" y1="671.5" x2="504.28" y2="672.2" stroke="#555" stroke-width="0.45" />
<line x1="446.6" y1="621.28" x2="445.6" y2="621.28" stroke="#555" stroke-width="0.4" />
<line x1="446.6" y1="633.76" x2="445.6" y2="633.76" stroke="#555" stroke-width="0.4" />
<line x1="446.6" y1="646.24" x2="445.6" y2="646.24" stroke="#555" stroke-width="0.4" />
<line x1="446.6" y1="658.72" x2="445.6" y2="658.72" stroke="#555" stroke-width="0.4" />
<circle cx="485.07" cy="641.47" r="0.3" fill="#c4c4c4"/>
<circle cx="491.72" cy="626.85" r="0.3" fill="#c4c4c4"/>
<circle cx="468.98" cy="633.44" r="0.3" fill="#c4c4c4"/>
<circle cx="478.11" cy="645.81" r="0.3" fill="#c4c4c4"/>
<circle cx="492.56" cy="639.88" r="0.3" fill="#c4c4c4"/>
<circle cx="487.97" cy="641.58" r="0.3" fill="#c4c4c4"/>
<circle cx="473.64" cy="635.3" r="0.3" fill="#c4c4c4"/>
<circle cx="474.23" cy="648.53" r="0.3" fill="#c4c4c4"/>
<circle cx="470.64" cy="646.05" r="0.3" fill="#c4c4c4"/>
<circle cx="471.19" cy="642.31" r="0.3" fill="#c4c4c4"/>
<circle cx="480.29" cy="634.29" r="0.3" fill="#c4c4c4"/>
<circle cx="497.83" cy="623.33" r="0.3" fill="#c4c4c4"/>
<circle cx="470.71" cy="648.79" r="0.3" fill="#c4c4c4"/>
<circle cx="486.26" cy="625.38" r="0.3" fill="#c4c4c4"/>
<circle cx="502.85" cy="649.69" r="0.3" fill="#c4c4c4"/>
<circle cx="472.5" cy="634.82" r="0.3" fill="#c4c4c4"/>
<circle cx="473.29" cy="631.68" r="0.3" fill="#c4c4c4"/>
<circle cx="490.16" cy="627.44" r="0.3" fill="#c4c4c4"/>
<circle cx="492.78" cy="624.26" r="0.3" fill="#c4c4c4"/>
<circle cx="474.54" cy="645.97" r="0.3" fill="#c4c4c4"/>
<circle cx="482.5" cy="634.7" r="0.3" fill="#c4c4c4"/>
<circle cx="489.28" cy="636.34" r="0.3" fill="#c4c4c4"/>
<circle cx="481.94" cy="623.67" r="0.3" fill="#c4c4c4"/>
<circle cx="493.8" cy="650.28" r="0.3" fill="#c4c4c4"/>
<circle cx="502.48" cy="641.65" r="0.3" fill="#c4c4c4"/>
<circle cx="480.97" cy="633.11" r="0.3" fill="#c4c4c4"/>
<circle cx="492.55" cy="641.94" r="0.3" fill="#c4c4c4"/>
<circle cx="472.55" cy="629.47" r="0.3" fill="#c4c4c4"/>
<circle cx="481.21" cy="637.32" r="0.3" fill="#c4c4c4"/>
<circle cx="496.71" cy="637" r="0.3" fill="#c4c4c4"/>
<circle cx="469.58" cy="646.16" r="0.3" fill="#c4c4c4"/>
<circle cx="483.53" cy="637.54" r="0.3" fill="#c4c4c4"/>
<circle cx="476.31" cy="634.93" r="0.3" fill="#c4c4c4"/>
<circle cx="482.07" cy="644.72" r="0.3" fill="#c4c4c4"/>
<circle cx="472.16" cy="638.42" r="0.3" fill="#c4c4c4"/>
<circle cx="474.78" cy="642.56" r="0.3" fill="#c4c4c4"/>
<circle cx="469.88" cy="630.65" r="0.3" fill="#c4c4c4"/>
<circle cx="480.54" cy="640.89" r="0.3" fill="#c4c4c4"/>
<circle cx="470.41" cy="635.84" r="0.3" fill="#c4c4c4"/>
<circle cx="475.85" cy="630.81" r="0.3" fill="#c4c4c4"/>
<circle cx="485.13" cy="650.03" r="0.3" fill="#c4c4c4"/>
<circle cx="485.29" cy="649.95" r="0.3" fill="#c4c4c4"/>
<circle cx="474.41" cy="649.05" r="0.3" fill="#c4c4c4"/>
<circle cx="481.24" cy="628.17" r="0.3" fill="#c4c4c4"/>
<circle cx="494.57" cy="648.7" r="0.3" fill="#c4c4c4"/>
<circle cx="468.83" cy="630.42" r="0.3" fill="#c4c4c4"/>
<circle cx="495.34" cy="632.51" r="0.3" fill="#c4c4c4"/>
<circle cx="476.98" cy="623.05" r="0.3" fill="#c4c4c4"/>
<circle cx="469.99" cy="640.38" r="0.3" fill="#c4c4c4"/>
<circle cx="502.74" cy="651.16" r="0.3" fill="#c4c4c4"/>
<circle cx="486.07" cy="623.48" r="0.3" fill="#c4c4c4"/>
<circle cx="479.79" cy="645.16" r="0.3" fill="#c4c4c4"/>
<circle cx="497.47" cy="640.96" r="0.3" fill="#c4c4c4"/>
<circle cx="476.56" cy="637.77" r="0.3" fill="#c4c4c4"/>
<circle cx="485.17" cy="640.61" r="0.3" fill="#c4c4c4"/>
<circle cx="477.71" cy="649.69" r="0.3" fill="#c4c4c4"/>
<circle cx="499.63" cy="627.4" r="0.3" fill="#c4c4c4"/>
<circle cx="478.71" cy="647.6" r="0.3" fill="#c4c4c4"/>
<circle cx="478.26" cy="649.61" r="0.3" fill="#c4c4c4"/>
<circle cx="486.48" cy="642.57" r="0.3" fill="#c4c4c4"/>
<circle cx="493.05" cy="628.88" r="0.3" fill="#c4c4c4"/>
<circle cx="478.49" cy="630.04" r="0.3" fill="#c4c4c4"/>
<circle cx="492.31" cy="642.51" r="0.3" fill="#c4c4c4"/>
<circle cx="473.17" cy="647.97" r="0.3" fill="#c4c4c4"/>
<circle cx="483.19" cy="629.65" r="0.3" fill="#c4c4c4"/>
<circle cx="483.7" cy="650.62" r="0.3" fill="#c4c4c4"/>
<circle cx="488.03" cy="640.54" r="0.3" fill="#c4c4c4"/>
<circle cx="500.52" cy="650.12" r="0.3" fill="#c4c4c4"/>
<circle cx="494.99" cy="634.66" r="0.3" fill="#c4c4c4"/>
<circle cx="489.02" cy="648.39" r="0.3" fill="#c4c4c4"/>
<circle cx="495.99" cy="639.28" r="0.3" fill="#c4c4c4"/>
<circle cx="480.66" cy="633.26" r="0.3" fill="#c4c4c4"/>
<circle cx="494.13" cy="638.8" r="0.3" fill="#c4c4c4"/>
<circle cx="469.19" cy="642.97" r="0.3" fill="#c4c4c4"/>
<circle cx="499.96" cy="645.46" r="0.3" fill="#c4c4c4"/>
<circle cx="499.74" cy="648.66" r="0.3" fill="#c4c4c4"/>
<circle cx="487.16" cy="645.21" r="0.3" fill="#c4c4c4"/>
<circle cx="481.77" cy="625.59" r="0.3" fill="#c4c4c4"/>
<circle cx="480.85" cy="631.66" r="0.3" fill="#c4c4c4"/>
<circle cx="501.01" cy="642.37" r="0.3" fill="#c4c4c4"/>
<defs><radialGradient id="fb12"><stop offset="0" stop-color="#222"/><stop offset="0.6" stop-color="#555"/><stop offset="1" stop-color="#999" stop-opacity="0.6"/></radialGradient></defs>
<ellipse cx="467.6" cy="643.2" rx="4" ry="16" fill="none" stroke="#ccc" stroke-width="0.5"/>
<ellipse cx="467.6" cy="649.2" rx="3.2" ry="10" fill="url(#fb12)" stroke="#666" stroke-width="0.5"/>
<path d="M470.6 641.2 L 486.6 632.2 M 470.6 647.2 L 487.6 639.2" fill="none" stroke="#555" stroke-width="0.7"/>
<ellipse cx="484.6" cy="632.2" rx="4" ry="6" fill="none" stroke="#aaa" stroke-width="0.5"/>
<path d="M459.6 622.8 H 493.3 V 649.2 H 459.6 Z M 459.6 664.2 H 472 M 472 622.8 V 664.2 M 479.4 622.8 H 479.4 V 649.2 H 479.4" fill="none" stroke="#555" stroke-width="0.65"/>
<line x1="459.6" y1="622.8" x2="459.6" y2="664.2" stroke="#555" stroke-width="0.65" />
<text x="448.4" y="615.4" font-size="7.4" text-anchor="start" font-weight="normal" fill="#4A6A9A" textLength="9.77" lengthAdjust="spacingAndGlyphs"  stroke="#4A6A9A" stroke-width="0.18">Tail</text>
<text x="449.9" y="621.1" font-size="5.6" text-anchor="start" font-weight="normal" fill="#4A6A9A" stroke="#4A6A9A" stroke-width="0.18">G1: 45%</text>
<text x="477.1" y="621.1" font-size="5.6" text-anchor="start" font-weight="normal" fill="#4A6A9A" stroke="#4A6A9A" stroke-width="0.18">G2/M: 6%</text>
<text x="472.9" y="655.4" font-size="5.6" text-anchor="start" font-weight="normal" fill="#4A6A9A" stroke="#4A6A9A" stroke-width="0.18">S: 7%</text>
<text x="452.2" y="669" font-size="5.6" text-anchor="start" font-weight="normal" fill="#4A6A9A" stroke="#4A6A9A" stroke-width="0.18">G0: 42%</text>
<line x1="438.7" y1="549.8" x2="438.7" y2="672.7" stroke="#111" stroke-width="1.1" />
<text x="436.5" y="666.3" font-size="7.6" text-anchor="middle" font-weight="normal" fill="#222" textLength="13.4" lengthAdjust="spacingAndGlyphs" transform="rotate(-90 436.5 666.3)" stroke="#222" stroke-width="0.25">Ki67</text>
<text x="457.5" y="684.3" font-size="7.8" text-anchor="middle" font-weight="normal" fill="#222" textLength="23" lengthAdjust="spacingAndGlyphs" stroke="#222" stroke-width="0.25">Hoechst</text>
<rect x="0.6" y="0.6" width="518.6" height="691.4" fill="none" stroke="#111" stroke-width="1.3"/>
</svg>
</body></html>
